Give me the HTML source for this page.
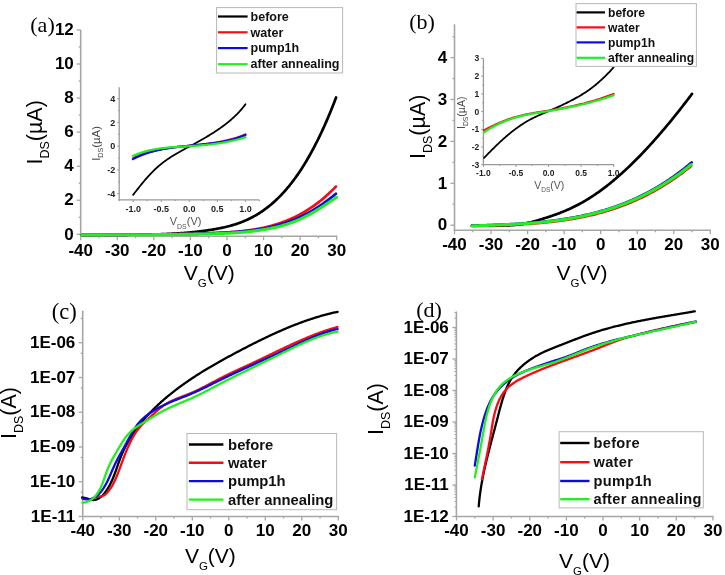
<!DOCTYPE html>
<html><head><meta charset="utf-8"><title>Transfer characteristics</title>
<style>html,body{margin:0;padding:0;background:#fff;}svg{display:block;filter:blur(0.5px);}</style>
</head><body>
<svg width="725" height="575" viewBox="0 0 725 575">
<rect width="725" height="575" fill="#fff"/>
<line x1="80.7" y1="29.9" x2="80.7" y2="236.7" stroke="#a6a6a6" stroke-width="1.6"/>
<line x1="80" y1="236.2" x2="337.39" y2="236.2" stroke="#a6a6a6" stroke-width="1.6"/>
<line x1="76.7" y1="234.3" x2="80.7" y2="234.3" stroke="#a6a6a6" stroke-width="1.3"/>
<line x1="78.7" y1="217.27" x2="80.7" y2="217.27" stroke="#a6a6a6" stroke-width="1.3"/>
<line x1="76.7" y1="200.24" x2="80.7" y2="200.24" stroke="#a6a6a6" stroke-width="1.3"/>
<line x1="78.7" y1="183.21" x2="80.7" y2="183.21" stroke="#a6a6a6" stroke-width="1.3"/>
<line x1="76.7" y1="166.18" x2="80.7" y2="166.18" stroke="#a6a6a6" stroke-width="1.3"/>
<line x1="78.7" y1="149.15" x2="80.7" y2="149.15" stroke="#a6a6a6" stroke-width="1.3"/>
<line x1="76.7" y1="132.12" x2="80.7" y2="132.12" stroke="#a6a6a6" stroke-width="1.3"/>
<line x1="78.7" y1="115.09" x2="80.7" y2="115.09" stroke="#a6a6a6" stroke-width="1.3"/>
<line x1="76.7" y1="98.06" x2="80.7" y2="98.06" stroke="#a6a6a6" stroke-width="1.3"/>
<line x1="78.7" y1="81.03" x2="80.7" y2="81.03" stroke="#a6a6a6" stroke-width="1.3"/>
<line x1="76.7" y1="64" x2="80.7" y2="64" stroke="#a6a6a6" stroke-width="1.3"/>
<line x1="78.7" y1="46.97" x2="80.7" y2="46.97" stroke="#a6a6a6" stroke-width="1.3"/>
<line x1="76.7" y1="29.94" x2="80.7" y2="29.94" stroke="#a6a6a6" stroke-width="1.3"/>
<line x1="80.7" y1="236.2" x2="80.7" y2="240.2" stroke="#a6a6a6" stroke-width="1.3"/>
<line x1="98.98" y1="236.2" x2="98.98" y2="238.2" stroke="#a6a6a6" stroke-width="1.3"/>
<line x1="117.27" y1="236.2" x2="117.27" y2="240.2" stroke="#a6a6a6" stroke-width="1.3"/>
<line x1="135.56" y1="236.2" x2="135.56" y2="238.2" stroke="#a6a6a6" stroke-width="1.3"/>
<line x1="153.84" y1="236.2" x2="153.84" y2="240.2" stroke="#a6a6a6" stroke-width="1.3"/>
<line x1="172.12" y1="236.2" x2="172.12" y2="238.2" stroke="#a6a6a6" stroke-width="1.3"/>
<line x1="190.41" y1="236.2" x2="190.41" y2="240.2" stroke="#a6a6a6" stroke-width="1.3"/>
<line x1="208.69" y1="236.2" x2="208.69" y2="238.2" stroke="#a6a6a6" stroke-width="1.3"/>
<line x1="226.98" y1="236.2" x2="226.98" y2="240.2" stroke="#a6a6a6" stroke-width="1.3"/>
<line x1="245.26" y1="236.2" x2="245.26" y2="238.2" stroke="#a6a6a6" stroke-width="1.3"/>
<line x1="263.55" y1="236.2" x2="263.55" y2="240.2" stroke="#a6a6a6" stroke-width="1.3"/>
<line x1="281.83" y1="236.2" x2="281.83" y2="238.2" stroke="#a6a6a6" stroke-width="1.3"/>
<line x1="300.12" y1="236.2" x2="300.12" y2="240.2" stroke="#a6a6a6" stroke-width="1.3"/>
<line x1="318.41" y1="236.2" x2="318.41" y2="238.2" stroke="#a6a6a6" stroke-width="1.3"/>
<line x1="336.69" y1="236.2" x2="336.69" y2="240.2" stroke="#a6a6a6" stroke-width="1.3"/>
<text x="73.8" y="239.5" font-family='"Liberation Sans", sans-serif' font-size="17" font-weight="bold" text-anchor="end" fill="#000">0</text>
<text x="73.8" y="205.44" font-family='"Liberation Sans", sans-serif' font-size="17" font-weight="bold" text-anchor="end" fill="#000">2</text>
<text x="73.8" y="171.38" font-family='"Liberation Sans", sans-serif' font-size="17" font-weight="bold" text-anchor="end" fill="#000">4</text>
<text x="73.8" y="137.32" font-family='"Liberation Sans", sans-serif' font-size="17" font-weight="bold" text-anchor="end" fill="#000">6</text>
<text x="73.8" y="103.26" font-family='"Liberation Sans", sans-serif' font-size="17" font-weight="bold" text-anchor="end" fill="#000">8</text>
<text x="73.8" y="69.2" font-family='"Liberation Sans", sans-serif' font-size="17" font-weight="bold" text-anchor="end" fill="#000">10</text>
<text x="73.8" y="35.14" font-family='"Liberation Sans", sans-serif' font-size="17" font-weight="bold" text-anchor="end" fill="#000">12</text>
<text x="80.7" y="256.3" font-family='"Liberation Sans", sans-serif' font-size="17" font-weight="bold" text-anchor="middle" fill="#000">-40</text>
<text x="117.27" y="256.3" font-family='"Liberation Sans", sans-serif' font-size="17" font-weight="bold" text-anchor="middle" fill="#000">-30</text>
<text x="153.84" y="256.3" font-family='"Liberation Sans", sans-serif' font-size="17" font-weight="bold" text-anchor="middle" fill="#000">-20</text>
<text x="190.41" y="256.3" font-family='"Liberation Sans", sans-serif' font-size="17" font-weight="bold" text-anchor="middle" fill="#000">-10</text>
<text x="226.98" y="256.3" font-family='"Liberation Sans", sans-serif' font-size="17" font-weight="bold" text-anchor="middle" fill="#000">0</text>
<text x="263.55" y="256.3" font-family='"Liberation Sans", sans-serif' font-size="17" font-weight="bold" text-anchor="middle" fill="#000">10</text>
<text x="300.12" y="256.3" font-family='"Liberation Sans", sans-serif' font-size="17" font-weight="bold" text-anchor="middle" fill="#000">20</text>
<text x="336.69" y="256.3" font-family='"Liberation Sans", sans-serif' font-size="17" font-weight="bold" text-anchor="middle" fill="#000">30</text>
<path d="M82 234.99 L83 234.97 L84.01 234.95 L85.01 234.93 L86.02 234.91 L87.02 234.9 L88.03 234.88 L89.03 234.86 L90.03 234.85 L91.04 234.84 L92.04 234.83 L93.05 234.81 L94.05 234.8 L95.06 234.8 L96.06 234.79 L97.07 234.78 L98.07 234.77 L99.07 234.77 L100.08 234.76 L101.08 234.75 L102.09 234.75 L103.09 234.75 L104.1 234.74 L105.1 234.74 L106.1 234.74 L107.11 234.74 L108.11 234.73 L109.12 234.73 L110.12 234.73 L111.13 234.73 L112.13 234.73 L113.13 234.73 L114.14 234.73 L115.14 234.73 L116.15 234.73 L117.15 234.73 L118.16 234.73 L119.16 234.73 L120.17 234.73 L121.17 234.73 L122.17 234.73 L123.18 234.73 L124.18 234.73 L125.19 234.72 L126.19 234.72 L127.2 234.72 L128.2 234.72 L129.2 234.72 L130.21 234.71 L131.21 234.71 L132.22 234.71 L133.22 234.7 L134.23 234.7 L135.23 234.69 L136.23 234.68 L137.24 234.68 L138.24 234.67 L139.25 234.66 L140.25 234.65 L141.26 234.64 L142.26 234.63 L143.27 234.62 L144.27 234.61 L145.27 234.59 L146.28 234.58 L147.28 234.56 L148.29 234.55 L149.29 234.53 L150.3 234.51 L151.3 234.49 L152.3 234.47 L153.31 234.44 L154.31 234.42 L155.32 234.39 L156.32 234.37 L157.33 234.34 L158.33 234.31 L159.33 234.28 L160.34 234.24 L161.34 234.21 L162.35 234.17 L163.35 234.14 L164.36 234.1 L165.36 234.06 L166.37 234.01 L167.37 233.97 L168.37 233.92 L169.38 233.88 L170.38 233.83 L171.39 233.77 L172.39 233.72 L173.4 233.66 L174.4 233.61 L175.4 233.55 L176.41 233.48 L177.41 233.42 L178.42 233.35 L179.42 233.29 L180.43 233.22 L181.43 233.14 L182.43 233.07 L183.44 232.99 L184.44 232.91 L185.45 232.83 L186.45 232.74 L187.46 232.65 L188.46 232.56 L189.47 232.47 L190.47 232.38 L191.47 232.28 L192.48 232.18 L193.48 232.08 L194.49 231.97 L195.49 231.86 L196.5 231.75 L197.5 231.63 L198.5 231.52 L199.51 231.4 L200.51 231.27 L201.52 231.15 L202.52 231.02 L203.53 230.89 L204.53 230.75 L205.53 230.61 L206.54 230.47 L207.54 230.33 L208.55 230.18 L209.55 230.03 L210.56 229.87 L211.56 229.71 L212.57 229.55 L213.57 229.38 L214.57 229.21 L215.58 229.04 L216.58 228.86 L217.59 228.68 L218.59 228.49 L219.6 228.29 L220.6 228.09 L221.6 227.88 L222.61 227.67 L223.61 227.45 L224.62 227.22 L225.62 226.98 L226.63 226.74 L227.63 226.49 L228.63 226.23 L229.64 225.97 L230.64 225.69 L231.65 225.41 L232.65 225.12 L233.66 224.82 L234.66 224.5 L235.67 224.18 L236.67 223.85 L237.67 223.51 L238.68 223.16 L239.68 222.8 L240.69 222.42 L241.69 222.04 L242.7 221.64 L243.7 221.23 L244.7 220.81 L245.71 220.38 L246.71 219.93 L247.72 219.47 L248.72 219 L249.73 218.51 L250.73 218.01 L251.73 217.5 L252.74 216.97 L253.74 216.43 L254.75 215.87 L255.75 215.3 L256.76 214.71 L257.76 214.11 L258.77 213.49 L259.77 212.86 L260.77 212.21 L261.78 211.54 L262.78 210.85 L263.79 210.15 L264.79 209.43 L265.8 208.7 L266.8 207.94 L267.8 207.17 L268.81 206.38 L269.81 205.56 L270.82 204.74 L271.82 203.89 L272.83 203.02 L273.83 202.13 L274.83 201.22 L275.84 200.29 L276.84 199.34 L277.85 198.37 L278.85 197.38 L279.86 196.37 L280.86 195.34 L281.87 194.28 L282.87 193.2 L283.87 192.1 L284.88 190.98 L285.88 189.83 L286.89 188.67 L287.89 187.47 L288.9 186.26 L289.9 185.02 L290.9 183.75 L291.91 182.46 L292.91 181.15 L293.92 179.81 L294.92 178.45 L295.93 177.06 L296.93 175.64 L297.93 174.2 L298.94 172.73 L299.94 171.24 L300.95 169.71 L301.95 168.17 L302.96 166.59 L303.96 164.99 L304.97 163.35 L305.97 161.69 L306.97 160 L307.98 158.29 L308.98 156.54 L309.99 154.77 L310.99 152.96 L312 151.13 L313 149.26 L314 147.37 L315.01 145.44 L316.01 143.49 L317.02 141.5 L318.02 139.48 L319.03 137.43 L320.03 135.35 L321.03 133.23 L322.04 131.08 L323.04 128.91 L324.05 126.69 L325.05 124.45 L326.06 122.17 L327.06 119.86 L328.07 117.51 L329.07 115.13 L330.07 112.71 L331.08 110.26 L332.08 107.78 L333.09 105.26 L334.09 102.7 L335.1 100.11 L336.1 97.48" fill="none" stroke="#000000" stroke-width="2.7" stroke-linejoin="round" stroke-linecap="round"/>
<path d="M82 234.89 L83.01 234.89 L84.02 234.89 L85.02 234.89 L86.03 234.88 L87.04 234.88 L88.05 234.88 L89.05 234.88 L90.06 234.88 L91.07 234.88 L92.08 234.88 L93.08 234.88 L94.09 234.88 L95.1 234.87 L96.11 234.87 L97.11 234.87 L98.12 234.87 L99.13 234.87 L100.14 234.87 L101.14 234.87 L102.15 234.86 L103.16 234.86 L104.17 234.86 L105.17 234.86 L106.18 234.85 L107.19 234.85 L108.2 234.85 L109.2 234.85 L110.21 234.84 L111.22 234.84 L112.23 234.84 L113.23 234.83 L114.24 234.83 L115.25 234.83 L116.26 234.82 L117.26 234.82 L118.27 234.82 L119.28 234.81 L120.29 234.81 L121.29 234.8 L122.3 234.8 L123.31 234.79 L124.32 234.79 L125.32 234.78 L126.33 234.78 L127.34 234.77 L128.35 234.77 L129.35 234.76 L130.36 234.75 L131.37 234.75 L132.38 234.74 L133.38 234.73 L134.39 234.73 L135.4 234.72 L136.41 234.71 L137.41 234.7 L138.42 234.7 L139.43 234.69 L140.44 234.68 L141.44 234.67 L142.45 234.66 L143.46 234.65 L144.47 234.64 L145.47 234.63 L146.48 234.62 L147.49 234.61 L148.5 234.6 L149.51 234.59 L150.51 234.58 L151.52 234.57 L152.53 234.55 L153.54 234.54 L154.54 234.53 L155.55 234.52 L156.56 234.5 L157.57 234.49 L158.57 234.47 L159.58 234.46 L160.59 234.45 L161.6 234.43 L162.6 234.41 L163.61 234.4 L164.62 234.38 L165.63 234.37 L166.63 234.35 L167.64 234.33 L168.65 234.31 L169.66 234.3 L170.66 234.28 L171.67 234.26 L172.68 234.24 L173.69 234.22 L174.69 234.2 L175.7 234.18 L176.71 234.16 L177.72 234.14 L178.72 234.12 L179.73 234.1 L180.74 234.07 L181.75 234.05 L182.75 234.03 L183.76 234 L184.77 233.98 L185.78 233.95 L186.78 233.93 L187.79 233.9 L188.8 233.88 L189.81 233.85 L190.81 233.82 L191.82 233.8 L192.83 233.77 L193.84 233.74 L194.84 233.71 L195.85 233.68 L196.86 233.65 L197.87 233.62 L198.87 233.59 L199.88 233.56 L200.89 233.53 L201.9 233.5 L202.9 233.46 L203.91 233.43 L204.92 233.39 L205.93 233.36 L206.93 233.33 L207.94 233.29 L208.95 233.25 L209.96 233.22 L210.97 233.18 L211.97 233.14 L212.98 233.1 L213.99 233.06 L215 233.02 L216 232.98 L217.01 232.94 L218.02 232.89 L219.03 232.85 L220.03 232.8 L221.04 232.75 L222.05 232.7 L223.06 232.65 L224.06 232.59 L225.07 232.54 L226.08 232.48 L227.09 232.42 L228.09 232.35 L229.1 232.29 L230.11 232.22 L231.12 232.15 L232.12 232.07 L233.13 232 L234.14 231.91 L235.15 231.83 L236.15 231.74 L237.16 231.65 L238.17 231.56 L239.18 231.46 L240.18 231.36 L241.19 231.25 L242.2 231.14 L243.21 231.03 L244.21 230.91 L245.22 230.79 L246.23 230.66 L247.24 230.53 L248.24 230.4 L249.25 230.26 L250.26 230.11 L251.27 229.96 L252.27 229.81 L253.28 229.65 L254.29 229.48 L255.3 229.31 L256.3 229.13 L257.31 228.95 L258.32 228.76 L259.33 228.57 L260.33 228.37 L261.34 228.16 L262.35 227.95 L263.36 227.73 L264.36 227.5 L265.37 227.27 L266.38 227.03 L267.39 226.79 L268.39 226.53 L269.4 226.27 L270.41 226.01 L271.42 225.73 L272.42 225.45 L273.43 225.16 L274.44 224.87 L275.45 224.57 L276.46 224.25 L277.46 223.93 L278.47 223.61 L279.48 223.27 L280.49 222.93 L281.49 222.57 L282.5 222.21 L283.51 221.84 L284.52 221.46 L285.52 221.07 L286.53 220.68 L287.54 220.27 L288.55 219.85 L289.55 219.42 L290.56 218.99 L291.57 218.54 L292.58 218.08 L293.58 217.61 L294.59 217.14 L295.6 216.65 L296.61 216.15 L297.61 215.64 L298.62 215.11 L299.63 214.58 L300.64 214.04 L301.64 213.48 L302.65 212.91 L303.66 212.33 L304.67 211.74 L305.67 211.13 L306.68 210.52 L307.69 209.89 L308.7 209.25 L309.7 208.59 L310.71 207.92 L311.72 207.24 L312.73 206.55 L313.73 205.84 L314.74 205.12 L315.75 204.38 L316.76 203.63 L317.76 202.87 L318.77 202.09 L319.78 201.3 L320.79 200.5 L321.79 199.67 L322.8 198.84 L323.81 197.99 L324.82 197.12 L325.82 196.24 L326.83 195.35 L327.84 194.43 L328.85 193.51 L329.85 192.56 L330.86 191.6 L331.87 190.63 L332.88 189.63 L333.88 188.63 L334.89 187.6 L335.9 186.56" fill="none" stroke="#fa0a12" stroke-width="2.7" stroke-linejoin="round" stroke-linecap="round"/>
<path d="M82 234.9 L83.01 234.89 L84.02 234.89 L85.02 234.89 L86.03 234.88 L87.04 234.88 L88.05 234.88 L89.05 234.88 L90.06 234.87 L91.07 234.87 L92.08 234.87 L93.08 234.87 L94.09 234.86 L95.1 234.86 L96.11 234.86 L97.11 234.86 L98.12 234.85 L99.13 234.85 L100.14 234.85 L101.14 234.85 L102.15 234.85 L103.16 234.84 L104.17 234.84 L105.17 234.84 L106.18 234.84 L107.19 234.84 L108.2 234.83 L109.2 234.83 L110.21 234.83 L111.22 234.83 L112.23 234.82 L113.23 234.82 L114.24 234.82 L115.25 234.82 L116.26 234.81 L117.26 234.81 L118.27 234.81 L119.28 234.8 L120.29 234.8 L121.29 234.8 L122.3 234.8 L123.31 234.79 L124.32 234.79 L125.32 234.78 L126.33 234.78 L127.34 234.78 L128.35 234.77 L129.35 234.77 L130.36 234.76 L131.37 234.76 L132.38 234.75 L133.38 234.75 L134.39 234.74 L135.4 234.74 L136.41 234.73 L137.41 234.73 L138.42 234.72 L139.43 234.71 L140.44 234.71 L141.44 234.7 L142.45 234.69 L143.46 234.69 L144.47 234.68 L145.47 234.67 L146.48 234.66 L147.49 234.65 L148.5 234.65 L149.51 234.64 L150.51 234.63 L151.52 234.62 L152.53 234.61 L153.54 234.6 L154.54 234.59 L155.55 234.58 L156.56 234.57 L157.57 234.55 L158.57 234.54 L159.58 234.53 L160.59 234.52 L161.6 234.5 L162.6 234.49 L163.61 234.48 L164.62 234.46 L165.63 234.45 L166.63 234.43 L167.64 234.42 L168.65 234.4 L169.66 234.39 L170.66 234.37 L171.67 234.35 L172.68 234.34 L173.69 234.32 L174.69 234.3 L175.7 234.28 L176.71 234.26 L177.72 234.24 L178.72 234.22 L179.73 234.2 L180.74 234.18 L181.75 234.16 L182.75 234.14 L183.76 234.12 L184.77 234.09 L185.78 234.07 L186.78 234.05 L187.79 234.02 L188.8 234 L189.81 233.97 L190.81 233.95 L191.82 233.92 L192.83 233.89 L193.84 233.87 L194.84 233.84 L195.85 233.81 L196.86 233.78 L197.87 233.75 L198.87 233.72 L199.88 233.69 L200.89 233.66 L201.9 233.62 L202.9 233.59 L203.91 233.56 L204.92 233.52 L205.93 233.49 L206.93 233.45 L207.94 233.42 L208.95 233.38 L209.96 233.34 L210.97 233.3 L211.97 233.26 L212.98 233.22 L213.99 233.18 L215 233.14 L216 233.1 L217.01 233.06 L218.02 233.01 L219.03 232.97 L220.03 232.92 L221.04 232.87 L222.05 232.82 L223.06 232.77 L224.06 232.71 L225.07 232.66 L226.08 232.6 L227.09 232.54 L228.09 232.48 L229.1 232.42 L230.11 232.36 L231.12 232.29 L232.12 232.22 L233.13 232.15 L234.14 232.08 L235.15 232 L236.15 231.92 L237.16 231.84 L238.17 231.76 L239.18 231.67 L240.18 231.59 L241.19 231.49 L242.2 231.4 L243.21 231.3 L244.21 231.2 L245.22 231.1 L246.23 230.99 L247.24 230.88 L248.24 230.77 L249.25 230.65 L250.26 230.53 L251.27 230.4 L252.27 230.27 L253.28 230.14 L254.29 230 L255.3 229.86 L256.3 229.71 L257.31 229.56 L258.32 229.4 L259.33 229.24 L260.33 229.07 L261.34 228.9 L262.35 228.72 L263.36 228.53 L264.36 228.34 L265.37 228.15 L266.38 227.95 L267.39 227.74 L268.39 227.53 L269.4 227.31 L270.41 227.08 L271.42 226.85 L272.42 226.61 L273.43 226.36 L274.44 226.11 L275.45 225.85 L276.46 225.58 L277.46 225.3 L278.47 225.02 L279.48 224.73 L280.49 224.43 L281.49 224.13 L282.5 223.82 L283.51 223.49 L284.52 223.17 L285.52 222.83 L286.53 222.48 L287.54 222.13 L288.55 221.77 L289.55 221.4 L290.56 221.02 L291.57 220.63 L292.58 220.24 L293.58 219.83 L294.59 219.42 L295.6 219 L296.61 218.57 L297.61 218.12 L298.62 217.67 L299.63 217.22 L300.64 216.75 L301.64 216.27 L302.65 215.78 L303.66 215.28 L304.67 214.77 L305.67 214.26 L306.68 213.73 L307.69 213.19 L308.7 212.64 L309.7 212.08 L310.71 211.51 L311.72 210.94 L312.73 210.35 L313.73 209.75 L314.74 209.13 L315.75 208.51 L316.76 207.88 L317.76 207.24 L318.77 206.58 L319.78 205.92 L320.79 205.24 L321.79 204.55 L322.8 203.86 L323.81 203.15 L324.82 202.43 L325.82 201.69 L326.83 200.95 L327.84 200.19 L328.85 199.43 L329.85 198.65 L330.86 197.86 L331.87 197.06 L332.88 196.24 L333.88 195.41 L334.89 194.58 L335.9 193.73" fill="none" stroke="#0c0ce0" stroke-width="2.7" stroke-linejoin="round" stroke-linecap="round"/>
<path d="M82 234.91 L83.01 234.91 L84.01 234.9 L85.02 234.9 L86.02 234.89 L87.03 234.89 L88.03 234.88 L89.04 234.88 L90.04 234.87 L91.05 234.87 L92.06 234.86 L93.06 234.86 L94.07 234.86 L95.07 234.85 L96.08 234.85 L97.08 234.85 L98.09 234.84 L99.09 234.84 L100.1 234.84 L101.11 234.83 L102.11 234.83 L103.12 234.83 L104.12 234.83 L105.13 234.82 L106.13 234.82 L107.14 234.82 L108.14 234.82 L109.15 234.81 L110.15 234.81 L111.16 234.81 L112.17 234.81 L113.17 234.8 L114.18 234.8 L115.18 234.8 L116.19 234.8 L117.19 234.8 L118.2 234.79 L119.2 234.79 L120.21 234.79 L121.22 234.79 L122.22 234.78 L123.23 234.78 L124.23 234.78 L125.24 234.78 L126.24 234.77 L127.25 234.77 L128.25 234.77 L129.26 234.77 L130.27 234.76 L131.27 234.76 L132.28 234.76 L133.28 234.75 L134.29 234.75 L135.29 234.75 L136.3 234.75 L137.3 234.74 L138.31 234.74 L139.32 234.73 L140.32 234.73 L141.33 234.73 L142.33 234.72 L143.34 234.72 L144.34 234.71 L145.35 234.71 L146.35 234.7 L147.36 234.7 L148.37 234.69 L149.37 234.69 L150.38 234.68 L151.38 234.68 L152.39 234.67 L153.39 234.67 L154.4 234.66 L155.4 234.65 L156.41 234.65 L157.42 234.64 L158.42 234.63 L159.43 234.63 L160.43 234.62 L161.44 234.61 L162.44 234.6 L163.45 234.59 L164.45 234.58 L165.46 234.58 L166.46 234.57 L167.47 234.56 L168.48 234.55 L169.48 234.54 L170.49 234.53 L171.49 234.52 L172.5 234.5 L173.5 234.49 L174.51 234.48 L175.51 234.47 L176.52 234.46 L177.53 234.44 L178.53 234.43 L179.54 234.42 L180.54 234.4 L181.55 234.39 L182.55 234.38 L183.56 234.36 L184.56 234.35 L185.57 234.33 L186.58 234.31 L187.58 234.3 L188.59 234.28 L189.59 234.26 L190.6 234.25 L191.6 234.23 L192.61 234.21 L193.61 234.19 L194.62 234.17 L195.63 234.15 L196.63 234.13 L197.64 234.11 L198.64 234.09 L199.65 234.07 L200.65 234.05 L201.66 234.02 L202.66 234 L203.67 233.98 L204.68 233.95 L205.68 233.93 L206.69 233.9 L207.69 233.88 L208.7 233.85 L209.7 233.83 L210.71 233.8 L211.71 233.77 L212.72 233.74 L213.72 233.71 L214.73 233.68 L215.74 233.65 L216.74 233.62 L217.75 233.59 L218.75 233.56 L219.76 233.52 L220.76 233.48 L221.77 233.45 L222.77 233.41 L223.78 233.37 L224.79 233.32 L225.79 233.28 L226.8 233.23 L227.8 233.19 L228.81 233.14 L229.81 233.08 L230.82 233.03 L231.82 232.97 L232.83 232.92 L233.84 232.86 L234.84 232.79 L235.85 232.73 L236.85 232.66 L237.86 232.59 L238.86 232.52 L239.87 232.44 L240.87 232.36 L241.88 232.28 L242.89 232.19 L243.89 232.11 L244.9 232.01 L245.9 231.92 L246.91 231.82 L247.91 231.72 L248.92 231.62 L249.92 231.51 L250.93 231.4 L251.94 231.28 L252.94 231.16 L253.95 231.04 L254.95 230.91 L255.96 230.78 L256.96 230.64 L257.97 230.5 L258.97 230.36 L259.98 230.21 L260.98 230.05 L261.99 229.9 L263 229.73 L264 229.57 L265.01 229.39 L266.01 229.22 L267.02 229.04 L268.02 228.85 L269.03 228.66 L270.03 228.46 L271.04 228.26 L272.05 228.05 L273.05 227.84 L274.06 227.62 L275.06 227.4 L276.07 227.17 L277.07 226.93 L278.08 226.69 L279.08 226.44 L280.09 226.18 L281.1 225.92 L282.1 225.64 L283.11 225.36 L284.11 225.07 L285.12 224.78 L286.12 224.47 L287.13 224.15 L288.13 223.83 L289.14 223.49 L290.15 223.15 L291.15 222.79 L292.16 222.42 L293.16 222.05 L294.17 221.66 L295.17 221.26 L296.18 220.85 L297.18 220.43 L298.19 220 L299.2 219.56 L300.2 219.11 L301.21 218.65 L302.21 218.17 L303.22 217.69 L304.22 217.2 L305.23 216.7 L306.23 216.18 L307.24 215.66 L308.25 215.12 L309.25 214.58 L310.26 214.02 L311.26 213.46 L312.27 212.89 L313.27 212.31 L314.28 211.72 L315.28 211.13 L316.29 210.52 L317.29 209.91 L318.3 209.29 L319.31 208.67 L320.31 208.04 L321.32 207.4 L322.32 206.76 L323.33 206.11 L324.33 205.46 L325.34 204.8 L326.34 204.14 L327.35 203.47 L328.36 202.8 L329.36 202.13 L330.37 201.46 L331.37 200.78 L332.38 200.09 L333.38 199.41 L334.39 198.72 L335.39 198.04 L336.4 197.35" fill="none" stroke="#22ee22" stroke-width="3.1" stroke-linejoin="round" stroke-linecap="round"/>
<line x1="119.2" y1="87.2" x2="119.2" y2="200.4" stroke="#999999" stroke-width="1.3"/>
<line x1="118.7" y1="199.9" x2="259.2" y2="199.9" stroke="#999999" stroke-width="1.3"/>
<line x1="117.2" y1="193.6" x2="119.2" y2="193.6" stroke="#999999" stroke-width="1"/>
<line x1="118" y1="181.75" x2="119.2" y2="181.75" stroke="#999999" stroke-width="1"/>
<line x1="117.2" y1="169.9" x2="119.2" y2="169.9" stroke="#999999" stroke-width="1"/>
<line x1="118" y1="158.05" x2="119.2" y2="158.05" stroke="#999999" stroke-width="1"/>
<line x1="117.2" y1="146.2" x2="119.2" y2="146.2" stroke="#999999" stroke-width="1"/>
<line x1="118" y1="134.35" x2="119.2" y2="134.35" stroke="#999999" stroke-width="1"/>
<line x1="117.2" y1="122.5" x2="119.2" y2="122.5" stroke="#999999" stroke-width="1"/>
<line x1="118" y1="110.65" x2="119.2" y2="110.65" stroke="#999999" stroke-width="1"/>
<line x1="117.2" y1="98.8" x2="119.2" y2="98.8" stroke="#999999" stroke-width="1"/>
<line x1="119.18" y1="199.9" x2="119.18" y2="201.1" stroke="#999999" stroke-width="1"/>
<line x1="133.2" y1="199.9" x2="133.2" y2="202.1" stroke="#999999" stroke-width="1"/>
<line x1="147.23" y1="199.9" x2="147.23" y2="201.1" stroke="#999999" stroke-width="1"/>
<line x1="161.25" y1="199.9" x2="161.25" y2="202.1" stroke="#999999" stroke-width="1"/>
<line x1="175.28" y1="199.9" x2="175.28" y2="201.1" stroke="#999999" stroke-width="1"/>
<line x1="189.3" y1="199.9" x2="189.3" y2="202.1" stroke="#999999" stroke-width="1"/>
<line x1="203.33" y1="199.9" x2="203.33" y2="201.1" stroke="#999999" stroke-width="1"/>
<line x1="217.35" y1="199.9" x2="217.35" y2="202.1" stroke="#999999" stroke-width="1"/>
<line x1="231.38" y1="199.9" x2="231.38" y2="201.1" stroke="#999999" stroke-width="1"/>
<line x1="245.4" y1="199.9" x2="245.4" y2="202.1" stroke="#999999" stroke-width="1"/>
<line x1="259.43" y1="199.9" x2="259.43" y2="201.1" stroke="#999999" stroke-width="1"/>
<text x="115.3" y="196.7" font-family='"Liberation Sans", sans-serif' font-size="9" font-weight="bold" text-anchor="end" fill="#222">-4</text>
<text x="115.3" y="173" font-family='"Liberation Sans", sans-serif' font-size="9" font-weight="bold" text-anchor="end" fill="#222">-2</text>
<text x="115.3" y="149.3" font-family='"Liberation Sans", sans-serif' font-size="9" font-weight="bold" text-anchor="end" fill="#222">0</text>
<text x="115.3" y="125.6" font-family='"Liberation Sans", sans-serif' font-size="9" font-weight="bold" text-anchor="end" fill="#222">2</text>
<text x="115.3" y="101.9" font-family='"Liberation Sans", sans-serif' font-size="9" font-weight="bold" text-anchor="end" fill="#222">4</text>
<text x="133.2" y="211.6" font-family='"Liberation Sans", sans-serif' font-size="9" font-weight="bold" text-anchor="middle" fill="#222">-1.0</text>
<text x="161.25" y="211.6" font-family='"Liberation Sans", sans-serif' font-size="9" font-weight="bold" text-anchor="middle" fill="#222">-0.5</text>
<text x="189.3" y="211.6" font-family='"Liberation Sans", sans-serif' font-size="9" font-weight="bold" text-anchor="middle" fill="#222">0.0</text>
<text x="217.35" y="211.6" font-family='"Liberation Sans", sans-serif' font-size="9" font-weight="bold" text-anchor="middle" fill="#222">0.5</text>
<text x="245.4" y="211.6" font-family='"Liberation Sans", sans-serif' font-size="9" font-weight="bold" text-anchor="middle" fill="#222">1.0</text>
<g transform="translate(99.6 160.8) rotate(-90)">
<text x="0" y="0" font-family='"Liberation Sans", sans-serif' font-size="11.3" fill="#444">I<tspan font-size="7.2" dy="3.2">DS</tspan><tspan dy="-3.2">(&#181;A)</tspan></text>
</g>
<text x="169.7" y="225" font-family='"Liberation Sans", sans-serif' font-size="11" fill="#555">V<tspan font-size="7" dy="3.5">DS</tspan><tspan dy="-3.5">(V)</tspan></text>
<path d="M133.14 194.85 L133.73 194.09 L134.33 193.32 L134.93 192.55 L135.54 191.77 L136.15 190.99 L136.76 190.21 L137.38 189.42 L138 188.63 L138.62 187.84 L139.25 187.05 L139.88 186.26 L140.52 185.47 L141.16 184.68 L141.8 183.89 L142.45 183.09 L143.1 182.3 L143.76 181.52 L144.42 180.73 L145.09 179.95 L145.76 179.16 L146.44 178.39 L147.12 177.61 L147.8 176.84 L148.49 176.08 L149.19 175.31 L149.89 174.56 L150.59 173.81 L151.3 173.06 L152.02 172.33 L152.74 171.6 L153.47 170.87 L154.2 170.16 L154.94 169.45 L155.68 168.75 L156.43 168.06 L157.18 167.38 L157.94 166.71 L158.71 166.05 L159.48 165.4 L160.25 164.75 L161.04 164.11 L161.82 163.49 L162.62 162.87 L163.41 162.26 L164.22 161.65 L165.02 161.06 L165.84 160.47 L166.65 159.89 L167.48 159.32 L168.3 158.76 L169.14 158.2 L169.97 157.65 L170.81 157.1 L171.66 156.57 L172.51 156.04 L173.36 155.51 L174.21 154.99 L175.07 154.47 L175.94 153.96 L176.8 153.45 L177.67 152.95 L178.54 152.45 L179.42 151.95 L180.29 151.46 L181.17 150.96 L182.05 150.48 L182.93 149.99 L183.82 149.5 L184.7 149.02 L185.59 148.54 L186.48 148.05 L187.37 147.57 L188.26 147.09 L189.15 146.61 L190.04 146.12 L190.94 145.64 L191.83 145.16 L192.72 144.67 L193.61 144.18 L194.51 143.7 L195.4 143.21 L196.29 142.72 L197.18 142.22 L198.07 141.73 L198.96 141.23 L199.85 140.74 L200.74 140.24 L201.63 139.73 L202.51 139.23 L203.4 138.72 L204.28 138.21 L205.16 137.7 L206.04 137.18 L206.92 136.66 L207.79 136.14 L208.67 135.62 L209.54 135.09 L210.41 134.56 L211.27 134.02 L212.14 133.48 L213 132.94 L213.85 132.39 L214.71 131.84 L215.56 131.29 L216.41 130.73 L217.25 130.17 L218.09 129.6 L218.93 129.02 L219.76 128.45 L220.59 127.86 L221.41 127.28 L222.23 126.68 L223.05 126.08 L223.86 125.48 L224.67 124.87 L225.47 124.26 L226.27 123.64 L227.06 123.01 L227.85 122.38 L228.63 121.74 L229.4 121.09 L230.17 120.44 L230.94 119.79 L231.7 119.12 L232.45 118.45 L233.2 117.77 L233.94 117.09 L234.67 116.4 L235.4 115.7 L236.12 114.99 L236.84 114.28 L237.54 113.55 L238.24 112.82 L238.94 112.09 L239.62 111.34 L240.3 110.59 L240.97 109.83 L241.64 109.06 L242.29 108.28 L242.94 107.49 L243.58 106.7 L244.21 105.89 L244.83 105.08 L245.45 104.26" fill="none" stroke="#000000" stroke-width="1.8" stroke-linejoin="round" stroke-linecap="round"/>
<path d="M132.94 158.4 L133.86 157.94 L134.79 157.49 L135.73 157.06 L136.66 156.64 L137.6 156.23 L138.54 155.83 L139.48 155.44 L140.43 155.07 L141.38 154.7 L142.33 154.35 L143.28 154 L144.24 153.67 L145.2 153.35 L146.16 153.04 L147.12 152.73 L148.08 152.44 L149.05 152.15 L150.02 151.88 L150.99 151.61 L151.96 151.35 L152.94 151.1 L153.91 150.86 L154.89 150.63 L155.87 150.4 L156.86 150.18 L157.84 149.97 L158.82 149.77 L159.81 149.57 L160.8 149.38 L161.79 149.19 L162.78 149.01 L163.78 148.84 L164.77 148.67 L165.77 148.51 L166.76 148.36 L167.76 148.2 L168.76 148.06 L169.76 147.92 L170.76 147.78 L171.76 147.64 L172.77 147.51 L173.77 147.39 L174.78 147.26 L175.78 147.15 L176.79 147.03 L177.8 146.91 L178.81 146.8 L179.82 146.69 L180.83 146.59 L181.84 146.48 L182.85 146.38 L183.86 146.28 L184.87 146.18 L185.88 146.08 L186.9 145.98 L187.91 145.88 L188.92 145.78 L189.93 145.69 L190.95 145.59 L191.96 145.49 L192.97 145.39 L193.99 145.29 L195 145.19 L196.01 145.09 L197.03 144.99 L198.04 144.89 L199.05 144.78 L200.06 144.67 L201.08 144.57 L202.09 144.45 L203.1 144.34 L204.11 144.22 L205.12 144.1 L206.13 143.98 L207.14 143.86 L208.14 143.73 L209.15 143.6 L210.16 143.46 L211.16 143.32 L212.17 143.18 L213.17 143.03 L214.17 142.88 L215.18 142.72 L216.18 142.56 L217.18 142.39 L218.18 142.22 L219.17 142.04 L220.17 141.85 L221.16 141.66 L222.16 141.47 L223.15 141.27 L224.14 141.06 L225.13 140.84 L226.12 140.62 L227.1 140.39 L228.09 140.16 L229.07 139.91 L230.05 139.66 L231.03 139.4 L232.01 139.14 L232.98 138.86 L233.95 138.58 L234.93 138.29 L235.89 137.99 L236.86 137.68 L237.83 137.36 L238.79 137.03 L239.75 136.69 L240.71 136.35 L241.67 135.99 L242.62 135.62 L243.57 135.25 L244.52 134.86 L245.47 134.46" fill="none" stroke="#fa0a12" stroke-width="2.2" stroke-linejoin="round" stroke-linecap="round"/>
<path d="M132.94 159.12 L133.86 158.64 L134.78 158.18 L135.71 157.72 L136.63 157.28 L137.57 156.85 L138.5 156.44 L139.44 156.03 L140.38 155.64 L141.32 155.25 L142.27 154.88 L143.22 154.52 L144.17 154.17 L145.12 153.83 L146.08 153.5 L147.03 153.18 L147.99 152.87 L148.96 152.57 L149.92 152.27 L150.89 151.99 L151.86 151.71 L152.83 151.45 L153.8 151.19 L154.78 150.94 L155.76 150.7 L156.73 150.47 L157.72 150.24 L158.7 150.02 L159.68 149.81 L160.67 149.6 L161.66 149.4 L162.65 149.21 L163.64 149.03 L164.63 148.85 L165.63 148.67 L166.62 148.5 L167.62 148.34 L168.62 148.18 L169.61 148.03 L170.62 147.88 L171.62 147.74 L172.62 147.6 L173.62 147.46 L174.63 147.33 L175.63 147.21 L176.64 147.08 L177.65 146.96 L178.66 146.84 L179.67 146.73 L180.68 146.62 L181.69 146.51 L182.7 146.4 L183.71 146.3 L184.72 146.19 L185.73 146.09 L186.75 145.99 L187.76 145.89 L188.77 145.79 L189.79 145.7 L190.8 145.6 L191.82 145.5 L192.83 145.41 L193.85 145.31 L194.86 145.21 L195.88 145.12 L196.89 145.02 L197.9 144.92 L198.92 144.82 L199.93 144.72 L200.95 144.62 L201.96 144.51 L202.97 144.41 L203.98 144.3 L205 144.19 L206.01 144.07 L207.02 143.96 L208.03 143.84 L209.04 143.71 L210.05 143.59 L211.06 143.46 L212.06 143.32 L213.07 143.19 L214.07 143.04 L215.08 142.9 L216.08 142.74 L217.08 142.59 L218.09 142.43 L219.09 142.26 L220.08 142.09 L221.08 141.91 L222.08 141.73 L223.07 141.54 L224.07 141.34 L225.06 141.14 L226.05 140.93 L227.04 140.71 L228.03 140.48 L229.01 140.25 L230 140.01 L230.98 139.77 L231.96 139.51 L232.94 139.25 L233.91 138.97 L234.89 138.69 L235.86 138.4 L236.83 138.1 L237.8 137.8 L238.77 137.48 L239.73 137.15 L240.69 136.81 L241.65 136.46 L242.61 136.11 L243.56 135.74 L244.51 135.36 L245.46 134.97" fill="none" stroke="#0c0ce0" stroke-width="2.2" stroke-linejoin="round" stroke-linecap="round"/>
<path d="M132.92 155.89 L133.87 155.46 L134.82 155.05 L135.77 154.65 L136.73 154.27 L137.69 153.9 L138.65 153.54 L139.61 153.19 L140.58 152.86 L141.54 152.54 L142.51 152.23 L143.48 151.94 L144.46 151.65 L145.43 151.38 L146.4 151.12 L147.38 150.87 L148.36 150.63 L149.34 150.4 L150.32 150.17 L151.31 149.96 L152.29 149.76 L153.28 149.57 L154.27 149.38 L155.25 149.21 L156.24 149.04 L157.24 148.88 L158.23 148.72 L159.22 148.58 L160.22 148.44 L161.22 148.31 L162.21 148.18 L163.21 148.06 L164.21 147.95 L165.21 147.84 L166.22 147.74 L167.22 147.64 L168.22 147.55 L169.23 147.46 L170.23 147.37 L171.24 147.29 L172.25 147.22 L173.26 147.14 L174.26 147.07 L175.27 147 L176.28 146.94 L177.29 146.87 L178.3 146.81 L179.32 146.75 L180.33 146.69 L181.34 146.63 L182.35 146.58 L183.37 146.52 L184.38 146.46 L185.4 146.41 L186.41 146.35 L187.42 146.29 L188.44 146.23 L189.45 146.17 L190.47 146.11 L191.48 146.04 L192.5 145.98 L193.51 145.91 L194.53 145.84 L195.54 145.77 L196.56 145.7 L197.57 145.62 L198.59 145.54 L199.6 145.46 L200.62 145.38 L201.63 145.29 L202.65 145.2 L203.66 145.11 L204.67 145.01 L205.69 144.91 L206.7 144.81 L207.71 144.71 L208.72 144.6 L209.73 144.49 L210.74 144.37 L211.75 144.25 L212.76 144.13 L213.77 144 L214.78 143.87 L215.78 143.73 L216.79 143.59 L217.79 143.45 L218.8 143.3 L219.8 143.14 L220.8 142.99 L221.8 142.82 L222.8 142.66 L223.8 142.48 L224.8 142.31 L225.8 142.12 L226.79 141.94 L227.79 141.74 L228.78 141.54 L229.77 141.34 L230.77 141.13 L231.76 140.91 L232.74 140.69 L233.73 140.46 L234.72 140.23 L235.7 139.99 L236.68 139.74 L237.66 139.49 L238.64 139.23 L239.62 138.97 L240.59 138.69 L241.57 138.42 L242.54 138.13 L243.51 137.84 L244.48 137.54 L245.45 137.23" fill="none" stroke="#22ee22" stroke-width="2.2" stroke-linejoin="round" stroke-linecap="round"/>
<rect x="216.6" y="7.6" width="126" height="65.4" fill="#fff" stroke="#b8b8b8" stroke-width="1"/>
<line x1="218" y1="16.5" x2="247.6" y2="16.5" stroke="#000000" stroke-width="2.2"/>
<text x="250.6" y="20.7" font-family='"Liberation Sans", sans-serif' font-size="12.5" font-weight="bold" text-anchor="start" fill="#111">before</text>
<line x1="218" y1="32.3" x2="247.6" y2="32.3" stroke="#fa0a12" stroke-width="2.2"/>
<text x="250.6" y="36.5" font-family='"Liberation Sans", sans-serif' font-size="12.5" font-weight="bold" text-anchor="start" fill="#111">water</text>
<line x1="218" y1="48.1" x2="247.6" y2="48.1" stroke="#0c0ce0" stroke-width="2.2"/>
<text x="250.6" y="52.3" font-family='"Liberation Sans", sans-serif' font-size="12.5" font-weight="bold" text-anchor="start" fill="#111">pump1h</text>
<line x1="218" y1="64.2" x2="247.6" y2="64.2" stroke="#22ee22" stroke-width="2.2"/>
<text x="250.6" y="68.4" font-family='"Liberation Sans", sans-serif' font-size="12.5" font-weight="bold" text-anchor="start" fill="#111">after annealing</text>
<text x="30.3" y="31.8" font-family='"Liberation Serif", serif' font-size="22" font-weight="normal" text-anchor="start" fill="#000">(a)</text>
<g transform="translate(41.7 164.6) rotate(-90)">
<text x="0" y="0" font-family='"Liberation Sans", sans-serif' font-size="21.5" fill="#000">I<tspan font-size="12.5" dy="7">DS</tspan><tspan dy="-7">(&#181;A)</tspan></text>
</g>
<text x="183.8" y="279.6" font-family='"Liberation Sans", sans-serif' font-size="21" fill="#000">V<tspan font-size="11.5" dy="7.4">G</tspan><tspan dy="-7.4">(V)</tspan></text>
<line x1="454.5" y1="24.3" x2="454.5" y2="230.8" stroke="#a6a6a6" stroke-width="1.6"/>
<line x1="453.8" y1="230.3" x2="710.98" y2="230.3" stroke="#a6a6a6" stroke-width="1.6"/>
<line x1="450.5" y1="225.2" x2="454.5" y2="225.2" stroke="#a6a6a6" stroke-width="1.3"/>
<line x1="452.5" y1="204.25" x2="454.5" y2="204.25" stroke="#a6a6a6" stroke-width="1.3"/>
<line x1="450.5" y1="183.3" x2="454.5" y2="183.3" stroke="#a6a6a6" stroke-width="1.3"/>
<line x1="452.5" y1="162.35" x2="454.5" y2="162.35" stroke="#a6a6a6" stroke-width="1.3"/>
<line x1="450.5" y1="141.4" x2="454.5" y2="141.4" stroke="#a6a6a6" stroke-width="1.3"/>
<line x1="452.5" y1="120.45" x2="454.5" y2="120.45" stroke="#a6a6a6" stroke-width="1.3"/>
<line x1="450.5" y1="99.5" x2="454.5" y2="99.5" stroke="#a6a6a6" stroke-width="1.3"/>
<line x1="452.5" y1="78.55" x2="454.5" y2="78.55" stroke="#a6a6a6" stroke-width="1.3"/>
<line x1="450.5" y1="57.6" x2="454.5" y2="57.6" stroke="#a6a6a6" stroke-width="1.3"/>
<line x1="452.5" y1="36.65" x2="454.5" y2="36.65" stroke="#a6a6a6" stroke-width="1.3"/>
<line x1="454.5" y1="230.3" x2="454.5" y2="234.3" stroke="#a6a6a6" stroke-width="1.3"/>
<line x1="472.77" y1="230.3" x2="472.77" y2="232.3" stroke="#a6a6a6" stroke-width="1.3"/>
<line x1="491.04" y1="230.3" x2="491.04" y2="234.3" stroke="#a6a6a6" stroke-width="1.3"/>
<line x1="509.31" y1="230.3" x2="509.31" y2="232.3" stroke="#a6a6a6" stroke-width="1.3"/>
<line x1="527.58" y1="230.3" x2="527.58" y2="234.3" stroke="#a6a6a6" stroke-width="1.3"/>
<line x1="545.85" y1="230.3" x2="545.85" y2="232.3" stroke="#a6a6a6" stroke-width="1.3"/>
<line x1="564.12" y1="230.3" x2="564.12" y2="234.3" stroke="#a6a6a6" stroke-width="1.3"/>
<line x1="582.39" y1="230.3" x2="582.39" y2="232.3" stroke="#a6a6a6" stroke-width="1.3"/>
<line x1="600.66" y1="230.3" x2="600.66" y2="234.3" stroke="#a6a6a6" stroke-width="1.3"/>
<line x1="618.93" y1="230.3" x2="618.93" y2="232.3" stroke="#a6a6a6" stroke-width="1.3"/>
<line x1="637.2" y1="230.3" x2="637.2" y2="234.3" stroke="#a6a6a6" stroke-width="1.3"/>
<line x1="655.47" y1="230.3" x2="655.47" y2="232.3" stroke="#a6a6a6" stroke-width="1.3"/>
<line x1="673.74" y1="230.3" x2="673.74" y2="234.3" stroke="#a6a6a6" stroke-width="1.3"/>
<line x1="692.01" y1="230.3" x2="692.01" y2="232.3" stroke="#a6a6a6" stroke-width="1.3"/>
<line x1="710.28" y1="230.3" x2="710.28" y2="234.3" stroke="#a6a6a6" stroke-width="1.3"/>
<text x="447.3" y="230.4" font-family='"Liberation Sans", sans-serif' font-size="17" font-weight="bold" text-anchor="end" fill="#000">0</text>
<text x="447.3" y="188.5" font-family='"Liberation Sans", sans-serif' font-size="17" font-weight="bold" text-anchor="end" fill="#000">1</text>
<text x="447.3" y="146.6" font-family='"Liberation Sans", sans-serif' font-size="17" font-weight="bold" text-anchor="end" fill="#000">2</text>
<text x="447.3" y="104.7" font-family='"Liberation Sans", sans-serif' font-size="17" font-weight="bold" text-anchor="end" fill="#000">3</text>
<text x="447.3" y="62.8" font-family='"Liberation Sans", sans-serif' font-size="17" font-weight="bold" text-anchor="end" fill="#000">4</text>
<text x="454.5" y="250.3" font-family='"Liberation Sans", sans-serif' font-size="17" font-weight="bold" text-anchor="middle" fill="#000">-40</text>
<text x="491.04" y="250.3" font-family='"Liberation Sans", sans-serif' font-size="17" font-weight="bold" text-anchor="middle" fill="#000">-30</text>
<text x="527.58" y="250.3" font-family='"Liberation Sans", sans-serif' font-size="17" font-weight="bold" text-anchor="middle" fill="#000">-20</text>
<text x="564.12" y="250.3" font-family='"Liberation Sans", sans-serif' font-size="17" font-weight="bold" text-anchor="middle" fill="#000">-10</text>
<text x="600.66" y="250.3" font-family='"Liberation Sans", sans-serif' font-size="17" font-weight="bold" text-anchor="middle" fill="#000">0</text>
<text x="637.2" y="250.3" font-family='"Liberation Sans", sans-serif' font-size="17" font-weight="bold" text-anchor="middle" fill="#000">10</text>
<text x="673.74" y="250.3" font-family='"Liberation Sans", sans-serif' font-size="17" font-weight="bold" text-anchor="middle" fill="#000">20</text>
<text x="710.28" y="250.3" font-family='"Liberation Sans", sans-serif' font-size="17" font-weight="bold" text-anchor="middle" fill="#000">30</text>
<path d="M472 225.62 L473 225.58 L474.01 225.55 L475.01 225.52 L476.02 225.5 L477.02 225.48 L478.03 225.47 L479.03 225.46 L480.04 225.45 L481.04 225.45 L482.05 225.44 L483.05 225.45 L484.05 225.45 L485.06 225.46 L486.06 225.46 L487.07 225.47 L488.07 225.48 L489.08 225.49 L490.08 225.5 L491.09 225.51 L492.09 225.52 L493.1 225.53 L494.1 225.54 L495.11 225.55 L496.11 225.55 L497.11 225.55 L498.12 225.55 L499.12 225.55 L500.13 225.55 L501.13 225.54 L502.14 225.53 L503.14 225.51 L504.15 225.49 L505.15 225.47 L506.16 225.44 L507.16 225.41 L508.16 225.37 L509.17 225.32 L510.17 225.27 L511.18 225.21 L512.18 225.15 L513.19 225.07 L514.19 224.99 L515.2 224.91 L516.2 224.81 L517.21 224.71 L518.21 224.59 L519.21 224.47 L520.22 224.34 L521.22 224.2 L522.23 224.05 L523.23 223.89 L524.24 223.71 L525.24 223.53 L526.25 223.34 L527.25 223.13 L528.26 222.91 L529.26 222.68 L530.26 222.44 L531.27 222.19 L532.27 221.93 L533.28 221.66 L534.28 221.38 L535.29 221.09 L536.29 220.8 L537.3 220.5 L538.3 220.2 L539.31 219.89 L540.31 219.58 L541.32 219.27 L542.32 218.96 L543.32 218.64 L544.33 218.32 L545.33 218 L546.34 217.68 L547.34 217.36 L548.35 217.03 L549.35 216.7 L550.36 216.37 L551.36 216.03 L552.37 215.69 L553.37 215.34 L554.37 214.99 L555.38 214.63 L556.38 214.27 L557.39 213.9 L558.39 213.52 L559.4 213.14 L560.4 212.75 L561.41 212.36 L562.41 211.96 L563.42 211.55 L564.42 211.13 L565.42 210.71 L566.43 210.28 L567.43 209.84 L568.44 209.4 L569.44 208.95 L570.45 208.49 L571.45 208.02 L572.46 207.54 L573.46 207.06 L574.47 206.57 L575.47 206.07 L576.47 205.56 L577.48 205.04 L578.48 204.51 L579.49 203.97 L580.49 203.43 L581.5 202.88 L582.5 202.31 L583.51 201.74 L584.51 201.16 L585.52 200.56 L586.52 199.96 L587.53 199.35 L588.53 198.73 L589.53 198.11 L590.54 197.47 L591.54 196.82 L592.55 196.17 L593.55 195.5 L594.56 194.83 L595.56 194.15 L596.57 193.45 L597.57 192.75 L598.58 192.05 L599.58 191.33 L600.58 190.6 L601.59 189.87 L602.59 189.12 L603.6 188.37 L604.6 187.61 L605.61 186.84 L606.61 186.07 L607.62 185.28 L608.62 184.49 L609.63 183.68 L610.63 182.87 L611.63 182.05 L612.64 181.23 L613.64 180.39 L614.65 179.55 L615.65 178.7 L616.66 177.84 L617.66 176.97 L618.67 176.1 L619.67 175.22 L620.68 174.33 L621.68 173.43 L622.68 172.52 L623.69 171.61 L624.69 170.69 L625.7 169.76 L626.7 168.82 L627.71 167.88 L628.71 166.93 L629.72 165.97 L630.72 165.01 L631.73 164.03 L632.73 163.05 L633.74 162.06 L634.74 161.07 L635.74 160.07 L636.75 159.06 L637.75 158.04 L638.76 157.02 L639.76 155.99 L640.77 154.95 L641.77 153.91 L642.78 152.86 L643.78 151.8 L644.79 150.74 L645.79 149.66 L646.79 148.59 L647.8 147.5 L648.8 146.41 L649.81 145.31 L650.81 144.21 L651.82 143.1 L652.82 141.98 L653.83 140.86 L654.83 139.73 L655.84 138.6 L656.84 137.45 L657.84 136.31 L658.85 135.15 L659.85 133.99 L660.86 132.83 L661.86 131.65 L662.87 130.47 L663.87 129.29 L664.88 128.1 L665.88 126.9 L666.89 125.7 L667.89 124.49 L668.89 123.28 L669.9 122.06 L670.9 120.84 L671.91 119.61 L672.91 118.37 L673.92 117.13 L674.92 115.88 L675.93 114.63 L676.93 113.38 L677.94 112.11 L678.94 110.84 L679.95 109.57 L680.95 108.29 L681.95 107.01 L682.96 105.72 L683.96 104.43 L684.97 103.13 L685.97 101.82 L686.98 100.52 L687.98 99.2 L688.99 97.88 L689.99 96.56 L691 95.23 L692 93.9" fill="none" stroke="#000000" stroke-width="2.7" stroke-linejoin="round" stroke-linecap="round"/>
<path d="M472 225.96 L473.01 225.93 L474.01 225.89 L475.02 225.86 L476.02 225.83 L477.03 225.8 L478.03 225.77 L479.04 225.73 L480.04 225.7 L481.05 225.67 L482.05 225.64 L483.06 225.61 L484.06 225.58 L485.07 225.55 L486.07 225.52 L487.08 225.49 L488.08 225.46 L489.09 225.43 L490.09 225.4 L491.1 225.37 L492.1 225.34 L493.11 225.31 L494.11 225.28 L495.12 225.25 L496.12 225.21 L497.13 225.18 L498.13 225.15 L499.14 225.12 L500.14 225.08 L501.15 225.05 L502.15 225.01 L503.16 224.98 L504.16 224.94 L505.17 224.9 L506.17 224.87 L507.18 224.83 L508.18 224.79 L509.19 224.75 L510.19 224.71 L511.2 224.67 L512.2 224.62 L513.21 224.58 L514.21 224.54 L515.22 224.49 L516.22 224.44 L517.23 224.39 L518.23 224.35 L519.24 224.29 L520.24 224.24 L521.25 224.19 L522.25 224.14 L523.26 224.08 L524.26 224.02 L525.27 223.96 L526.27 223.9 L527.28 223.84 L528.28 223.78 L529.29 223.72 L530.29 223.65 L531.3 223.58 L532.3 223.51 L533.31 223.44 L534.31 223.37 L535.32 223.29 L536.32 223.22 L537.33 223.14 L538.33 223.06 L539.34 222.97 L540.34 222.89 L541.35 222.8 L542.35 222.71 L543.36 222.62 L544.36 222.53 L545.37 222.43 L546.37 222.34 L547.38 222.24 L548.38 222.14 L549.39 222.03 L550.39 221.93 L551.4 221.82 L552.4 221.71 L553.41 221.59 L554.41 221.47 L555.42 221.36 L556.42 221.23 L557.43 221.11 L558.43 220.98 L559.44 220.85 L560.44 220.72 L561.45 220.59 L562.45 220.45 L563.46 220.31 L564.46 220.16 L565.47 220.02 L566.47 219.87 L567.48 219.72 L568.48 219.56 L569.49 219.4 L570.49 219.24 L571.5 219.07 L572.5 218.91 L573.51 218.74 L574.51 218.56 L575.52 218.38 L576.52 218.2 L577.53 218.02 L578.53 217.83 L579.54 217.64 L580.54 217.44 L581.55 217.24 L582.56 217.04 L583.56 216.84 L584.57 216.63 L585.57 216.41 L586.58 216.2 L587.58 215.98 L588.59 215.75 L589.59 215.52 L590.6 215.29 L591.6 215.06 L592.61 214.82 L593.61 214.57 L594.62 214.33 L595.62 214.07 L596.63 213.82 L597.63 213.56 L598.64 213.29 L599.64 213.03 L600.65 212.75 L601.65 212.48 L602.66 212.19 L603.66 211.91 L604.67 211.62 L605.67 211.32 L606.68 211.03 L607.68 210.72 L608.69 210.41 L609.69 210.1 L610.7 209.78 L611.7 209.46 L612.71 209.14 L613.71 208.8 L614.72 208.47 L615.72 208.13 L616.73 207.78 L617.73 207.43 L618.74 207.07 L619.74 206.71 L620.75 206.35 L621.75 205.98 L622.76 205.6 L623.76 205.22 L624.77 204.84 L625.77 204.44 L626.78 204.05 L627.78 203.65 L628.79 203.24 L629.79 202.83 L630.8 202.41 L631.8 201.98 L632.81 201.56 L633.81 201.12 L634.82 200.68 L635.82 200.24 L636.83 199.79 L637.83 199.33 L638.84 198.87 L639.84 198.4 L640.85 197.92 L641.85 197.44 L642.86 196.96 L643.86 196.47 L644.87 195.97 L645.87 195.47 L646.88 194.96 L647.88 194.44 L648.89 193.92 L649.89 193.39 L650.9 192.86 L651.9 192.32 L652.91 191.77 L653.91 191.22 L654.92 190.66 L655.92 190.1 L656.93 189.52 L657.93 188.95 L658.94 188.36 L659.94 187.77 L660.95 187.17 L661.95 186.57 L662.96 185.96 L663.96 185.34 L664.97 184.72 L665.97 184.09 L666.98 183.45 L667.98 182.81 L668.99 182.15 L669.99 181.5 L671 180.83 L672 180.16 L673.01 179.48 L674.01 178.79 L675.02 178.1 L676.02 177.4 L677.03 176.69 L678.03 175.98 L679.04 175.26 L680.04 174.53 L681.05 173.79 L682.05 173.05 L683.06 172.3 L684.06 171.54 L685.07 170.77 L686.07 170 L687.08 169.22 L688.08 168.43 L689.09 167.63 L690.09 166.83 L691.1 166.02" fill="none" stroke="#fa0a12" stroke-width="2.7" stroke-linejoin="round" stroke-linecap="round"/>
<path d="M472 225.74 L473.01 225.7 L474.01 225.67 L475.02 225.63 L476.03 225.59 L477.04 225.56 L478.04 225.52 L479.05 225.49 L480.06 225.45 L481.07 225.42 L482.07 225.38 L483.08 225.35 L484.09 225.31 L485.1 225.27 L486.1 225.24 L487.11 225.2 L488.12 225.16 L489.12 225.13 L490.13 225.09 L491.14 225.05 L492.15 225.01 L493.15 224.97 L494.16 224.93 L495.17 224.89 L496.18 224.85 L497.18 224.81 L498.19 224.77 L499.2 224.73 L500.21 224.68 L501.21 224.64 L502.22 224.59 L503.23 224.55 L504.23 224.5 L505.24 224.45 L506.25 224.41 L507.26 224.36 L508.26 224.31 L509.27 224.26 L510.28 224.2 L511.29 224.15 L512.29 224.1 L513.3 224.04 L514.31 223.98 L515.32 223.93 L516.32 223.87 L517.33 223.81 L518.34 223.75 L519.34 223.68 L520.35 223.62 L521.36 223.55 L522.37 223.49 L523.37 223.42 L524.38 223.35 L525.39 223.28 L526.4 223.2 L527.4 223.13 L528.41 223.05 L529.42 222.97 L530.43 222.89 L531.43 222.81 L532.44 222.73 L533.45 222.64 L534.46 222.56 L535.46 222.47 L536.47 222.38 L537.48 222.29 L538.48 222.19 L539.49 222.09 L540.5 222 L541.51 221.9 L542.51 221.79 L543.52 221.69 L544.53 221.58 L545.54 221.47 L546.54 221.36 L547.55 221.25 L548.56 221.13 L549.57 221.01 L550.57 220.89 L551.58 220.77 L552.59 220.64 L553.59 220.52 L554.6 220.39 L555.61 220.25 L556.62 220.12 L557.62 219.98 L558.63 219.84 L559.64 219.7 L560.65 219.55 L561.65 219.4 L562.66 219.25 L563.67 219.1 L564.68 218.94 L565.68 218.78 L566.69 218.62 L567.7 218.45 L568.7 218.28 L569.71 218.11 L570.72 217.94 L571.73 217.76 L572.73 217.58 L573.74 217.39 L574.75 217.21 L575.76 217.02 L576.76 216.82 L577.77 216.63 L578.78 216.43 L579.79 216.22 L580.79 216.02 L581.8 215.81 L582.81 215.59 L583.81 215.37 L584.82 215.15 L585.83 214.93 L586.84 214.7 L587.84 214.47 L588.85 214.24 L589.86 214 L590.87 213.76 L591.87 213.51 L592.88 213.26 L593.89 213 L594.9 212.75 L595.9 212.48 L596.91 212.22 L597.92 211.95 L598.92 211.67 L599.93 211.4 L600.94 211.11 L601.95 210.83 L602.95 210.53 L603.96 210.24 L604.97 209.94 L605.98 209.63 L606.98 209.32 L607.99 209.01 L609 208.69 L610.01 208.37 L611.01 208.04 L612.02 207.71 L613.03 207.37 L614.03 207.03 L615.04 206.68 L616.05 206.33 L617.06 205.97 L618.06 205.61 L619.07 205.24 L620.08 204.87 L621.09 204.49 L622.09 204.11 L623.1 203.72 L624.11 203.33 L625.12 202.93 L626.12 202.52 L627.13 202.11 L628.14 201.7 L629.14 201.28 L630.15 200.85 L631.16 200.42 L632.17 199.98 L633.17 199.54 L634.18 199.09 L635.19 198.64 L636.2 198.17 L637.2 197.71 L638.21 197.24 L639.22 196.76 L640.23 196.27 L641.23 195.78 L642.24 195.28 L643.25 194.78 L644.26 194.27 L645.26 193.76 L646.27 193.23 L647.28 192.7 L648.28 192.17 L649.29 191.63 L650.3 191.08 L651.31 190.53 L652.31 189.96 L653.32 189.4 L654.33 188.82 L655.34 188.24 L656.34 187.65 L657.35 187.06 L658.36 186.46 L659.37 185.85 L660.37 185.23 L661.38 184.61 L662.39 183.98 L663.39 183.34 L664.4 182.7 L665.41 182.05 L666.42 181.39 L667.42 180.72 L668.43 180.05 L669.44 179.37 L670.45 178.68 L671.45 177.98 L672.46 177.28 L673.47 176.57 L674.48 175.85 L675.48 175.13 L676.49 174.39 L677.5 173.65 L678.5 172.9 L679.51 172.14 L680.52 171.38 L681.53 170.61 L682.53 169.82 L683.54 169.03 L684.55 168.24 L685.56 167.43 L686.56 166.62 L687.57 165.8 L688.58 164.97 L689.59 164.13 L690.59 163.28 L691.6 162.43" fill="none" stroke="#0c0ce0" stroke-width="2.7" stroke-linejoin="round" stroke-linecap="round"/>
<path d="M472 225.96 L473.01 225.92 L474.01 225.88 L475.02 225.84 L476.02 225.8 L477.03 225.76 L478.03 225.73 L479.04 225.69 L480.04 225.65 L481.05 225.61 L482.05 225.58 L483.06 225.54 L484.06 225.5 L485.07 225.46 L486.07 225.43 L487.08 225.39 L488.08 225.35 L489.09 225.31 L490.09 225.28 L491.1 225.24 L492.1 225.2 L493.11 225.16 L494.11 225.12 L495.12 225.08 L496.12 225.04 L497.13 225 L498.13 224.96 L499.14 224.92 L500.14 224.88 L501.15 224.84 L502.15 224.8 L503.16 224.75 L504.16 224.71 L505.17 224.66 L506.17 224.62 L507.18 224.57 L508.18 224.52 L509.19 224.48 L510.19 224.43 L511.2 224.38 L512.2 224.33 L513.21 224.27 L514.21 224.22 L515.22 224.17 L516.22 224.11 L517.23 224.05 L518.23 224 L519.24 223.94 L520.24 223.88 L521.25 223.82 L522.25 223.75 L523.26 223.69 L524.26 223.62 L525.27 223.56 L526.27 223.49 L527.28 223.42 L528.28 223.34 L529.29 223.27 L530.29 223.2 L531.3 223.12 L532.3 223.04 L533.31 222.96 L534.31 222.88 L535.32 222.79 L536.32 222.71 L537.33 222.62 L538.33 222.53 L539.34 222.44 L540.34 222.35 L541.35 222.25 L542.35 222.15 L543.36 222.05 L544.36 221.95 L545.37 221.85 L546.37 221.74 L547.38 221.63 L548.38 221.52 L549.39 221.41 L550.39 221.29 L551.4 221.18 L552.4 221.06 L553.41 220.93 L554.41 220.81 L555.42 220.68 L556.42 220.55 L557.43 220.42 L558.43 220.28 L559.44 220.14 L560.44 220 L561.45 219.86 L562.45 219.71 L563.46 219.56 L564.46 219.41 L565.47 219.25 L566.47 219.1 L567.48 218.93 L568.48 218.77 L569.49 218.6 L570.49 218.43 L571.5 218.26 L572.5 218.08 L573.51 217.9 L574.51 217.72 L575.52 217.53 L576.52 217.34 L577.53 217.15 L578.53 216.95 L579.54 216.75 L580.54 216.55 L581.55 216.34 L582.56 216.13 L583.56 215.92 L584.57 215.7 L585.57 215.48 L586.58 215.25 L587.58 215.02 L588.59 214.79 L589.59 214.56 L590.6 214.32 L591.6 214.07 L592.61 213.82 L593.61 213.57 L594.62 213.32 L595.62 213.06 L596.63 212.79 L597.63 212.53 L598.64 212.25 L599.64 211.98 L600.65 211.7 L601.65 211.41 L602.66 211.12 L603.66 210.83 L604.67 210.53 L605.67 210.23 L606.68 209.93 L607.68 209.62 L608.69 209.3 L609.69 208.98 L610.7 208.66 L611.7 208.33 L612.71 207.99 L613.71 207.66 L614.72 207.31 L615.72 206.97 L616.73 206.61 L617.73 206.26 L618.74 205.9 L619.74 205.53 L620.75 205.16 L621.75 204.78 L622.76 204.4 L623.76 204.01 L624.77 203.62 L625.77 203.22 L626.78 202.82 L627.78 202.41 L628.79 202 L629.79 201.58 L630.8 201.16 L631.8 200.73 L632.81 200.3 L633.81 199.86 L634.82 199.42 L635.82 198.97 L636.83 198.51 L637.83 198.05 L638.84 197.58 L639.84 197.11 L640.85 196.63 L641.85 196.15 L642.86 195.66 L643.86 195.16 L644.87 194.66 L645.87 194.16 L646.88 193.64 L647.88 193.13 L648.89 192.6 L649.89 192.07 L650.9 191.54 L651.9 190.99 L652.91 190.44 L653.91 189.89 L654.92 189.33 L655.92 188.76 L656.93 188.19 L657.93 187.61 L658.94 187.02 L659.94 186.43 L660.95 185.83 L661.95 185.23 L662.96 184.62 L663.96 184 L664.97 183.37 L665.97 182.74 L666.98 182.1 L667.98 181.46 L668.99 180.81 L669.99 180.15 L671 179.49 L672 178.82 L673.01 178.14 L674.01 177.45 L675.02 176.76 L676.02 176.06 L677.03 175.36 L678.03 174.64 L679.04 173.92 L680.04 173.2 L681.05 172.46 L682.05 171.72 L683.06 170.97 L684.06 170.22 L685.07 169.46 L686.07 168.69 L687.08 167.91 L688.08 167.12 L689.09 166.33 L690.09 165.53 L691.1 164.72" fill="none" stroke="#22ee22" stroke-width="3.1" stroke-linejoin="round" stroke-linecap="round"/>
<line x1="483.4" y1="58.3" x2="483.4" y2="165.2" stroke="#999999" stroke-width="1.3"/>
<line x1="482.9" y1="164.7" x2="614.2" y2="164.7" stroke="#999999" stroke-width="1.3"/>
<line x1="481.2" y1="164.79" x2="483.4" y2="164.79" stroke="#999999" stroke-width="1"/>
<line x1="482.2" y1="155.93" x2="483.4" y2="155.93" stroke="#999999" stroke-width="1"/>
<line x1="481.2" y1="147.06" x2="483.4" y2="147.06" stroke="#999999" stroke-width="1"/>
<line x1="482.2" y1="138.19" x2="483.4" y2="138.19" stroke="#999999" stroke-width="1"/>
<line x1="481.2" y1="129.33" x2="483.4" y2="129.33" stroke="#999999" stroke-width="1"/>
<line x1="482.2" y1="120.46" x2="483.4" y2="120.46" stroke="#999999" stroke-width="1"/>
<line x1="481.2" y1="111.6" x2="483.4" y2="111.6" stroke="#999999" stroke-width="1"/>
<line x1="482.2" y1="102.73" x2="483.4" y2="102.73" stroke="#999999" stroke-width="1"/>
<line x1="481.2" y1="93.87" x2="483.4" y2="93.87" stroke="#999999" stroke-width="1"/>
<line x1="482.2" y1="85" x2="483.4" y2="85" stroke="#999999" stroke-width="1"/>
<line x1="481.2" y1="76.14" x2="483.4" y2="76.14" stroke="#999999" stroke-width="1"/>
<line x1="482.2" y1="67.27" x2="483.4" y2="67.27" stroke="#999999" stroke-width="1"/>
<line x1="481.2" y1="58.41" x2="483.4" y2="58.41" stroke="#999999" stroke-width="1"/>
<line x1="483.4" y1="164.7" x2="483.4" y2="166.9" stroke="#999999" stroke-width="1"/>
<line x1="499.69" y1="164.7" x2="499.69" y2="165.9" stroke="#999999" stroke-width="1"/>
<line x1="515.97" y1="164.7" x2="515.97" y2="166.9" stroke="#999999" stroke-width="1"/>
<line x1="532.26" y1="164.7" x2="532.26" y2="165.9" stroke="#999999" stroke-width="1"/>
<line x1="548.55" y1="164.7" x2="548.55" y2="166.9" stroke="#999999" stroke-width="1"/>
<line x1="564.84" y1="164.7" x2="564.84" y2="165.9" stroke="#999999" stroke-width="1"/>
<line x1="581.12" y1="164.7" x2="581.12" y2="166.9" stroke="#999999" stroke-width="1"/>
<line x1="597.41" y1="164.7" x2="597.41" y2="165.9" stroke="#999999" stroke-width="1"/>
<line x1="613.7" y1="164.7" x2="613.7" y2="166.9" stroke="#999999" stroke-width="1"/>
<text x="479.3" y="167.69" font-family='"Liberation Sans", sans-serif' font-size="8.5" font-weight="bold" text-anchor="end" fill="#222">-3</text>
<text x="479.3" y="149.96" font-family='"Liberation Sans", sans-serif' font-size="8.5" font-weight="bold" text-anchor="end" fill="#222">-2</text>
<text x="479.3" y="132.23" font-family='"Liberation Sans", sans-serif' font-size="8.5" font-weight="bold" text-anchor="end" fill="#222">-1</text>
<text x="479.3" y="114.5" font-family='"Liberation Sans", sans-serif' font-size="8.5" font-weight="bold" text-anchor="end" fill="#222">0</text>
<text x="479.3" y="96.77" font-family='"Liberation Sans", sans-serif' font-size="8.5" font-weight="bold" text-anchor="end" fill="#222">1</text>
<text x="479.3" y="79.04" font-family='"Liberation Sans", sans-serif' font-size="8.5" font-weight="bold" text-anchor="end" fill="#222">2</text>
<text x="479.3" y="61.31" font-family='"Liberation Sans", sans-serif' font-size="8.5" font-weight="bold" text-anchor="end" fill="#222">3</text>
<text x="483.4" y="176.2" font-family='"Liberation Sans", sans-serif' font-size="8.5" font-weight="bold" text-anchor="middle" fill="#222">-1.0</text>
<text x="515.97" y="176.2" font-family='"Liberation Sans", sans-serif' font-size="8.5" font-weight="bold" text-anchor="middle" fill="#222">-0.5</text>
<text x="548.55" y="176.2" font-family='"Liberation Sans", sans-serif' font-size="8.5" font-weight="bold" text-anchor="middle" fill="#222">0.0</text>
<text x="581.12" y="176.2" font-family='"Liberation Sans", sans-serif' font-size="8.5" font-weight="bold" text-anchor="middle" fill="#222">0.5</text>
<text x="613.7" y="176.2" font-family='"Liberation Sans", sans-serif' font-size="8.5" font-weight="bold" text-anchor="middle" fill="#222">1.0</text>
<g transform="translate(464.8 129) rotate(-90)">
<text x="0" y="0" font-family='"Liberation Sans", sans-serif' font-size="10.5" fill="#444">I<tspan font-size="6.8" dy="3">DS</tspan><tspan dy="-3">(&#181;A)</tspan></text>
</g>
<text x="534.3" y="189" font-family='"Liberation Sans", sans-serif' font-size="10.5" fill="#555">V<tspan font-size="6.5" dy="3.3">DS</tspan><tspan dy="-3.3">(V)</tspan></text>
<path d="M484.07 157.9 L484.74 157.2 L485.41 156.5 L486.08 155.8 L486.76 155.1 L487.44 154.39 L488.13 153.69 L488.82 152.98 L489.51 152.27 L490.21 151.56 L490.91 150.85 L491.62 150.14 L492.32 149.43 L493.04 148.73 L493.75 148.02 L494.47 147.31 L495.2 146.6 L495.92 145.89 L496.65 145.19 L497.39 144.48 L498.13 143.78 L498.87 143.08 L499.61 142.38 L500.36 141.69 L501.12 140.99 L501.87 140.3 L502.63 139.61 L503.4 138.93 L504.17 138.24 L504.94 137.56 L505.71 136.89 L506.49 136.22 L507.27 135.55 L508.06 134.89 L508.85 134.23 L509.64 133.57 L510.44 132.92 L511.24 132.28 L512.05 131.64 L512.85 131.01 L513.67 130.38 L514.48 129.76 L515.3 129.14 L516.12 128.53 L516.95 127.93 L517.78 127.33 L518.61 126.74 L519.45 126.16 L520.29 125.58 L521.13 125.02 L521.98 124.46 L522.83 123.9 L523.68 123.36 L524.54 122.83 L525.4 122.3 L526.27 121.78 L527.14 121.27 L528.01 120.77 L528.89 120.28 L529.76 119.8 L530.65 119.32 L531.53 118.86 L532.42 118.4 L533.31 117.95 L534.21 117.51 L535.1 117.07 L536 116.64 L536.91 116.22 L537.81 115.8 L538.72 115.39 L539.62 114.98 L540.54 114.57 L541.45 114.17 L542.36 113.77 L543.28 113.37 L544.19 112.98 L545.11 112.58 L546.03 112.19 L546.95 111.8 L547.87 111.41 L548.79 111.01 L549.71 110.62 L550.64 110.23 L551.56 109.83 L552.48 109.44 L553.4 109.04 L554.33 108.63 L555.25 108.23 L556.17 107.82 L557.09 107.4 L558.02 106.99 L558.94 106.57 L559.86 106.14 L560.78 105.71 L561.69 105.28 L562.61 104.85 L563.53 104.41 L564.44 103.97 L565.35 103.52 L566.26 103.07 L567.17 102.62 L568.08 102.16 L568.99 101.7 L569.89 101.24 L570.79 100.77 L571.69 100.3 L572.59 99.83 L573.48 99.35 L574.37 98.87 L575.26 98.39 L576.15 97.9 L577.03 97.41 L577.91 96.92 L578.79 96.42 L579.66 95.92 L580.53 95.41 L581.4 94.9 L582.26 94.38 L583.12 93.85 L583.97 93.31 L584.82 92.77 L585.67 92.22 L586.51 91.66 L587.35 91.09 L588.18 90.52 L589.01 89.93 L589.84 89.33 L590.66 88.73 L591.47 88.12 L592.28 87.5 L593.09 86.87 L593.89 86.24 L594.69 85.6 L595.48 84.95 L596.26 84.3 L597.05 83.64 L597.82 82.97 L598.59 82.3 L599.36 81.63 L600.12 80.95 L600.88 80.26 L601.63 79.57 L602.37 78.88 L603.11 78.18 L603.85 77.48 L604.57 76.78 L605.3 76.07 L606.02 75.36 L606.73 74.65 L607.43 73.94 L608.13 73.22 L608.83 72.51 L609.52 71.79 L610.2 71.07 L610.88 70.35 L611.55 69.63 L612.21 68.91 L612.87 68.19 L613.52 67.48" fill="none" stroke="#000000" stroke-width="1.8" stroke-linejoin="round" stroke-linecap="round"/>
<path d="M483.97 130.33 L484.86 129.87 L485.76 129.42 L486.66 128.96 L487.56 128.51 L488.46 128.06 L489.37 127.61 L490.28 127.16 L491.19 126.72 L492.1 126.28 L493.02 125.84 L493.94 125.4 L494.86 124.97 L495.79 124.54 L496.71 124.12 L497.64 123.7 L498.57 123.29 L499.51 122.88 L500.44 122.48 L501.38 122.08 L502.32 121.69 L503.26 121.31 L504.21 120.93 L505.15 120.56 L506.1 120.2 L507.05 119.84 L508 119.49 L508.95 119.15 L509.91 118.82 L510.87 118.5 L511.83 118.18 L512.79 117.88 L513.75 117.58 L514.71 117.29 L515.68 117 L516.64 116.73 L517.61 116.46 L518.58 116.21 L519.55 115.96 L520.53 115.71 L521.5 115.48 L522.47 115.25 L523.45 115.03 L524.43 114.82 L525.41 114.61 L526.39 114.41 L527.37 114.21 L528.35 114.02 L529.33 113.83 L530.32 113.65 L531.3 113.47 L532.29 113.29 L533.28 113.12 L534.27 112.95 L535.25 112.78 L536.24 112.62 L537.23 112.46 L538.22 112.3 L539.22 112.14 L540.21 111.98 L541.2 111.83 L542.19 111.67 L543.19 111.51 L544.18 111.36 L545.18 111.2 L546.17 111.04 L547.17 110.89 L548.16 110.73 L549.16 110.56 L550.16 110.4 L551.15 110.23 L552.15 110.07 L553.15 109.9 L554.14 109.73 L555.14 109.55 L556.14 109.38 L557.13 109.2 L558.13 109.02 L559.13 108.84 L560.12 108.65 L561.12 108.46 L562.12 108.28 L563.11 108.08 L564.11 107.89 L565.1 107.69 L566.1 107.49 L567.09 107.29 L568.09 107.09 L569.08 106.88 L570.07 106.67 L571.07 106.46 L572.06 106.25 L573.05 106.03 L574.04 105.81 L575.03 105.58 L576.02 105.36 L577.01 105.13 L577.99 104.9 L578.98 104.66 L579.97 104.43 L580.95 104.19 L581.93 103.94 L582.92 103.7 L583.9 103.45 L584.88 103.19 L585.86 102.94 L586.84 102.68 L587.81 102.41 L588.79 102.15 L589.76 101.88 L590.74 101.6 L591.71 101.33 L592.68 101.05 L593.65 100.77 L594.61 100.48 L595.58 100.19 L596.54 99.89 L597.51 99.6 L598.47 99.29 L599.43 98.99 L600.39 98.68 L601.34 98.37 L602.3 98.05 L603.25 97.73 L604.2 97.41 L605.15 97.08 L606.09 96.75 L607.04 96.41 L607.98 96.07 L608.92 95.73 L609.86 95.38 L610.8 95.03 L611.73 94.67 L612.66 94.31 L613.59 93.94" fill="none" stroke="#fa0a12" stroke-width="2.2" stroke-linejoin="round" stroke-linecap="round"/>
<path d="M483.85 132.38 L484.72 131.81 L485.6 131.25 L486.48 130.69 L487.36 130.14 L488.24 129.61 L489.13 129.08 L490.03 128.55 L490.92 128.04 L491.82 127.53 L492.72 127.04 L493.62 126.55 L494.53 126.07 L495.44 125.59 L496.35 125.13 L497.27 124.67 L498.19 124.23 L499.11 123.79 L500.03 123.36 L500.96 122.94 L501.89 122.52 L502.82 122.12 L503.75 121.72 L504.69 121.33 L505.63 120.95 L506.57 120.58 L507.51 120.22 L508.46 119.87 L509.4 119.52 L510.35 119.19 L511.31 118.86 L512.26 118.54 L513.22 118.23 L514.18 117.93 L515.14 117.64 L516.1 117.35 L517.06 117.08 L518.03 116.81 L519 116.56 L519.97 116.31 L520.94 116.06 L521.91 115.83 L522.89 115.6 L523.86 115.38 L524.84 115.17 L525.82 114.96 L526.8 114.76 L527.78 114.56 L528.76 114.37 L529.75 114.18 L530.73 114 L531.72 113.82 L532.71 113.64 L533.7 113.47 L534.69 113.3 L535.68 113.14 L536.67 112.97 L537.67 112.81 L538.66 112.65 L539.66 112.49 L540.65 112.33 L541.65 112.18 L542.65 112.02 L543.64 111.86 L544.64 111.7 L545.64 111.55 L546.64 111.39 L547.64 111.23 L548.64 111.07 L549.65 110.9 L550.65 110.74 L551.65 110.57 L552.65 110.4 L553.65 110.23 L554.66 110.05 L555.66 109.88 L556.66 109.7 L557.67 109.52 L558.67 109.34 L559.67 109.15 L560.68 108.97 L561.68 108.78 L562.68 108.59 L563.68 108.4 L564.69 108.2 L565.69 108 L566.69 107.81 L567.69 107.6 L568.69 107.4 L569.69 107.19 L570.69 106.99 L571.69 106.78 L572.69 106.56 L573.69 106.35 L574.69 106.13 L575.69 105.91 L576.68 105.69 L577.68 105.46 L578.67 105.24 L579.67 105.01 L580.66 104.78 L581.65 104.54 L582.64 104.3 L583.63 104.06 L584.62 103.82 L585.61 103.58 L586.59 103.33 L587.58 103.08 L588.56 102.83 L589.54 102.58 L590.52 102.32 L591.5 102.06 L592.48 101.8 L593.46 101.53 L594.43 101.26 L595.4 100.99 L596.38 100.72 L597.35 100.45 L598.31 100.17 L599.28 99.89 L600.24 99.6 L601.21 99.32 L602.17 99.03 L603.13 98.73 L604.08 98.44 L605.04 98.14 L605.99 97.84 L606.94 97.54 L607.89 97.23 L608.84 96.92 L609.78 96.61 L610.72 96.29 L611.66 95.97 L612.6 95.65 L613.53 95.33" fill="none" stroke="#22ee22" stroke-width="2.2" stroke-linejoin="round" stroke-linecap="round"/>
<rect x="576" y="3.6" width="120.4" height="62.8" fill="#fff" stroke="#b8b8b8" stroke-width="1"/>
<line x1="576.6" y1="12.4" x2="605" y2="12.4" stroke="#000000" stroke-width="2.2"/>
<text x="608" y="16.6" font-family='"Liberation Sans", sans-serif' font-size="12.1" font-weight="bold" text-anchor="start" fill="#111">before</text>
<line x1="576.6" y1="27.4" x2="605" y2="27.4" stroke="#fa0a12" stroke-width="2.2"/>
<text x="608" y="31.6" font-family='"Liberation Sans", sans-serif' font-size="12.1" font-weight="bold" text-anchor="start" fill="#111">water</text>
<line x1="576.6" y1="42.4" x2="605" y2="42.4" stroke="#0c0ce0" stroke-width="2.2"/>
<text x="608" y="46.6" font-family='"Liberation Sans", sans-serif' font-size="12.1" font-weight="bold" text-anchor="start" fill="#111">pump1h</text>
<line x1="576.6" y1="57.8" x2="605" y2="57.8" stroke="#22ee22" stroke-width="2.2"/>
<text x="608" y="62" font-family='"Liberation Sans", sans-serif' font-size="12.1" font-weight="bold" text-anchor="start" fill="#111">after annealing</text>
<text x="409.3" y="29.3" font-family='"Liberation Serif", serif' font-size="22" font-weight="normal" text-anchor="start" fill="#000">(b)</text>
<g transform="translate(424.8 159) rotate(-90)">
<text x="0" y="0" font-family='"Liberation Sans", sans-serif' font-size="21.5" fill="#000">I<tspan font-size="12.5" dy="7">DS</tspan><tspan dy="-7">(&#181;A)</tspan></text>
</g>
<text x="556.6" y="279.7" font-family='"Liberation Sans", sans-serif' font-size="21" fill="#000">V<tspan font-size="11.5" dy="7.4">G</tspan><tspan dy="-7.4">(V)</tspan></text>
<line x1="82.7" y1="310.7" x2="82.7" y2="517" stroke="#a6a6a6" stroke-width="1.6"/>
<line x1="82" y1="516.5" x2="339" y2="516.5" stroke="#a6a6a6" stroke-width="1.6"/>
<line x1="78.7" y1="516.5" x2="82.7" y2="516.5" stroke="#a6a6a6" stroke-width="1.3"/>
<line x1="80.7" y1="492.21" x2="82.7" y2="492.21" stroke="#a6a6a6" stroke-width="1.3"/>
<line x1="78.7" y1="481.75" x2="82.7" y2="481.75" stroke="#a6a6a6" stroke-width="1.3"/>
<line x1="80.7" y1="457.46" x2="82.7" y2="457.46" stroke="#a6a6a6" stroke-width="1.3"/>
<line x1="78.7" y1="447" x2="82.7" y2="447" stroke="#a6a6a6" stroke-width="1.3"/>
<line x1="80.7" y1="422.71" x2="82.7" y2="422.71" stroke="#a6a6a6" stroke-width="1.3"/>
<line x1="78.7" y1="412.25" x2="82.7" y2="412.25" stroke="#a6a6a6" stroke-width="1.3"/>
<line x1="80.7" y1="387.96" x2="82.7" y2="387.96" stroke="#a6a6a6" stroke-width="1.3"/>
<line x1="78.7" y1="377.5" x2="82.7" y2="377.5" stroke="#a6a6a6" stroke-width="1.3"/>
<line x1="80.7" y1="353.21" x2="82.7" y2="353.21" stroke="#a6a6a6" stroke-width="1.3"/>
<line x1="78.7" y1="342.75" x2="82.7" y2="342.75" stroke="#a6a6a6" stroke-width="1.3"/>
<line x1="80.7" y1="318.46" x2="82.7" y2="318.46" stroke="#a6a6a6" stroke-width="1.3"/>
<line x1="82.8" y1="516.5" x2="82.8" y2="520.5" stroke="#a6a6a6" stroke-width="1.3"/>
<line x1="101.05" y1="516.5" x2="101.05" y2="518.5" stroke="#a6a6a6" stroke-width="1.3"/>
<line x1="119.3" y1="516.5" x2="119.3" y2="520.5" stroke="#a6a6a6" stroke-width="1.3"/>
<line x1="137.55" y1="516.5" x2="137.55" y2="518.5" stroke="#a6a6a6" stroke-width="1.3"/>
<line x1="155.8" y1="516.5" x2="155.8" y2="520.5" stroke="#a6a6a6" stroke-width="1.3"/>
<line x1="174.05" y1="516.5" x2="174.05" y2="518.5" stroke="#a6a6a6" stroke-width="1.3"/>
<line x1="192.3" y1="516.5" x2="192.3" y2="520.5" stroke="#a6a6a6" stroke-width="1.3"/>
<line x1="210.55" y1="516.5" x2="210.55" y2="518.5" stroke="#a6a6a6" stroke-width="1.3"/>
<line x1="228.8" y1="516.5" x2="228.8" y2="520.5" stroke="#a6a6a6" stroke-width="1.3"/>
<line x1="247.05" y1="516.5" x2="247.05" y2="518.5" stroke="#a6a6a6" stroke-width="1.3"/>
<line x1="265.3" y1="516.5" x2="265.3" y2="520.5" stroke="#a6a6a6" stroke-width="1.3"/>
<line x1="283.55" y1="516.5" x2="283.55" y2="518.5" stroke="#a6a6a6" stroke-width="1.3"/>
<line x1="301.8" y1="516.5" x2="301.8" y2="520.5" stroke="#a6a6a6" stroke-width="1.3"/>
<line x1="320.05" y1="516.5" x2="320.05" y2="518.5" stroke="#a6a6a6" stroke-width="1.3"/>
<line x1="338.3" y1="516.5" x2="338.3" y2="520.5" stroke="#a6a6a6" stroke-width="1.3"/>
<text x="75.3" y="521.7" font-family='"Liberation Sans", sans-serif' font-size="17" font-weight="bold" text-anchor="end" fill="#000">1E-11</text>
<text x="75.3" y="486.95" font-family='"Liberation Sans", sans-serif' font-size="17" font-weight="bold" text-anchor="end" fill="#000">1E-10</text>
<text x="75.3" y="452.2" font-family='"Liberation Sans", sans-serif' font-size="17" font-weight="bold" text-anchor="end" fill="#000">1E-09</text>
<text x="75.3" y="417.45" font-family='"Liberation Sans", sans-serif' font-size="17" font-weight="bold" text-anchor="end" fill="#000">1E-08</text>
<text x="75.3" y="382.7" font-family='"Liberation Sans", sans-serif' font-size="17" font-weight="bold" text-anchor="end" fill="#000">1E-07</text>
<text x="75.3" y="347.95" font-family='"Liberation Sans", sans-serif' font-size="17" font-weight="bold" text-anchor="end" fill="#000">1E-06</text>
<text x="82.8" y="535.8" font-family='"Liberation Sans", sans-serif' font-size="17" font-weight="bold" text-anchor="middle" fill="#000">-40</text>
<text x="119.3" y="535.8" font-family='"Liberation Sans", sans-serif' font-size="17" font-weight="bold" text-anchor="middle" fill="#000">-30</text>
<text x="155.8" y="535.8" font-family='"Liberation Sans", sans-serif' font-size="17" font-weight="bold" text-anchor="middle" fill="#000">-20</text>
<text x="192.3" y="535.8" font-family='"Liberation Sans", sans-serif' font-size="17" font-weight="bold" text-anchor="middle" fill="#000">-10</text>
<text x="228.8" y="535.8" font-family='"Liberation Sans", sans-serif' font-size="17" font-weight="bold" text-anchor="middle" fill="#000">0</text>
<text x="265.3" y="535.8" font-family='"Liberation Sans", sans-serif' font-size="17" font-weight="bold" text-anchor="middle" fill="#000">10</text>
<text x="301.8" y="535.8" font-family='"Liberation Sans", sans-serif' font-size="17" font-weight="bold" text-anchor="middle" fill="#000">20</text>
<text x="338.3" y="535.8" font-family='"Liberation Sans", sans-serif' font-size="17" font-weight="bold" text-anchor="middle" fill="#000">30</text>
<path d="M82.14 497.48 L83.28 497.61 L84.41 497.81 L85.51 498.07 L86.59 498.36 L87.65 498.68 L88.68 498.99 L89.7 499.29 L90.69 499.56 L91.66 499.77 L92.61 499.92 L93.54 499.98 L94.44 499.94 L95.33 499.79 L96.19 499.56 L97.04 499.24 L97.87 498.86 L98.67 498.42 L99.46 497.92 L100.22 497.38 L100.97 496.79 L101.69 496.16 L102.4 495.49 L103.09 494.79 L103.76 494.05 L104.41 493.29 L105.04 492.5 L105.65 491.68 L106.25 490.85 L106.83 490.01 L107.39 489.15 L107.93 488.28 L108.45 487.41 L108.96 486.53 L109.46 485.64 L109.93 484.74 L110.4 483.84 L110.85 482.94 L111.28 482.02 L111.71 481.11 L112.12 480.19 L112.53 479.26 L112.92 478.33 L113.3 477.4 L113.68 476.46 L114.05 475.52 L114.41 474.57 L114.76 473.63 L115.11 472.68 L115.46 471.73 L115.8 470.78 L116.14 469.83 L116.47 468.87 L116.8 467.92 L117.14 466.96 L117.47 466.01 L117.8 465.06 L118.13 464.11 L118.46 463.15 L118.8 462.2 L119.14 461.26 L119.49 460.31 L119.83 459.37 L120.19 458.43 L120.55 457.49 L120.91 456.56 L121.29 455.63 L121.67 454.7 L122.06 453.78 L122.46 452.86 L122.87 451.95 L123.28 451.04 L123.7 450.13 L124.13 449.23 L124.57 448.33 L125.01 447.44 L125.46 446.55 L125.92 445.66 L126.39 444.78 L126.86 443.9 L127.34 443.03 L127.83 442.16 L128.32 441.29 L128.83 440.43 L129.33 439.57 L129.85 438.72 L130.37 437.87 L130.9 437.02 L131.43 436.18 L131.97 435.34 L132.52 434.51 L133.07 433.67 L133.63 432.85 L134.2 432.02 L134.77 431.2 L135.35 430.39 L135.93 429.58 L136.52 428.77 L137.12 427.96 L137.72 427.16 L138.33 426.37 L138.94 425.57 L139.56 424.78 L140.18 424 L140.81 423.22 L141.44 422.44 L142.08 421.66 L142.72 420.89 L143.37 420.13 L144.03 419.36 L144.68 418.6 L145.35 417.85 L146.02 417.1 L146.69 416.35 L147.37 415.6 L148.05 414.86 L148.73 414.12 L149.43 413.39 L150.12 412.66 L150.82 411.93 L151.52 411.21 L152.23 410.49 L152.94 409.77 L153.66 409.06 L154.38 408.35 L155.1 407.65 L155.82 406.95 L156.55 406.25 L157.29 405.55 L158.03 404.86 L158.77 404.18 L159.51 403.49 L160.26 402.81 L161.01 402.14 L161.76 401.46 L162.52 400.79 L163.28 400.13 L164.04 399.46 L164.8 398.8 L165.57 398.15 L166.34 397.5 L167.11 396.85 L167.89 396.2 L168.67 395.56 L169.45 394.92 L170.23 394.29 L171.01 393.65 L171.8 393.03 L172.59 392.4 L173.38 391.78 L174.17 391.16 L174.97 390.55 L175.76 389.93 L176.56 389.33 L177.36 388.72 L178.16 388.12 L178.97 387.52 L179.78 386.92 L180.58 386.33 L181.39 385.74 L182.21 385.15 L183.02 384.57 L183.84 383.98 L184.65 383.41 L185.47 382.83 L186.29 382.26 L187.12 381.69 L187.94 381.12 L188.77 380.55 L189.6 379.99 L190.43 379.43 L191.26 378.87 L192.09 378.32 L192.92 377.77 L193.76 377.22 L194.6 376.67 L195.44 376.13 L196.28 375.58 L197.12 375.04 L197.96 374.51 L198.81 373.97 L199.65 373.44 L200.5 372.9 L201.35 372.38 L202.2 371.85 L203.05 371.32 L203.91 370.8 L204.76 370.28 L205.62 369.76 L206.47 369.24 L207.33 368.73 L208.19 368.22 L209.05 367.71 L209.91 367.2 L210.78 366.69 L211.64 366.18 L212.51 365.68 L213.37 365.18 L214.24 364.68 L215.11 364.18 L215.98 363.68 L216.85 363.18 L217.72 362.69 L218.6 362.19 L219.47 361.7 L220.34 361.21 L221.22 360.72 L222.1 360.24 L222.97 359.75 L223.85 359.26 L224.73 358.78 L225.61 358.3 L226.49 357.82 L227.37 357.33 L228.25 356.86 L229.14 356.38 L230.02 355.9 L230.91 355.42 L231.79 354.95 L232.68 354.47 L233.56 354 L234.45 353.53 L235.34 353.05 L236.23 352.58 L237.11 352.11 L238 351.64 L238.89 351.17 L239.78 350.71 L240.67 350.24 L241.57 349.77 L242.46 349.3 L243.35 348.84 L244.24 348.37 L245.14 347.91 L246.03 347.45 L246.93 346.98 L247.82 346.52 L248.72 346.06 L249.61 345.6 L250.51 345.15 L251.41 344.69 L252.31 344.23 L253.2 343.78 L254.1 343.32 L255 342.87 L255.9 342.42 L256.81 341.97 L257.71 341.52 L258.61 341.07 L259.51 340.63 L260.42 340.18 L261.32 339.74 L262.23 339.3 L263.13 338.86 L264.04 338.42 L264.95 337.98 L265.86 337.55 L266.76 337.11 L267.67 336.68 L268.58 336.25 L269.5 335.82 L270.41 335.4 L271.32 334.97 L272.23 334.55 L273.15 334.13 L274.06 333.71 L274.98 333.29 L275.89 332.87 L276.81 332.46 L277.73 332.05 L278.65 331.64 L279.57 331.23 L280.49 330.83 L281.41 330.43 L282.33 330.03 L283.26 329.63 L284.18 329.23 L285.11 328.84 L286.03 328.45 L286.96 328.06 L287.89 327.68 L288.81 327.29 L289.74 326.91 L290.67 326.53 L291.61 326.16 L292.54 325.78 L293.47 325.41 L294.4 325.04 L295.34 324.68 L296.28 324.32 L297.21 323.96 L298.15 323.6 L299.09 323.25 L300.03 322.9 L300.97 322.55 L301.91 322.2 L302.86 321.86 L303.8 321.52 L304.75 321.18 L305.69 320.85 L306.64 320.52 L307.59 320.2 L308.54 319.87 L309.49 319.55 L310.44 319.23 L311.39 318.92 L312.34 318.61 L313.3 318.3 L314.25 318 L315.21 317.7 L316.17 317.4 L317.13 317.11 L318.09 316.82 L319.05 316.54 L320.01 316.25 L320.98 315.97 L321.94 315.7 L322.91 315.43 L323.88 315.16 L324.84 314.9 L325.81 314.64 L326.78 314.38 L327.76 314.13 L328.73 313.88 L329.7 313.64 L330.68 313.4 L331.66 313.16 L332.64 312.93 L333.62 312.7 L334.6 312.48 L335.58 312.26 L336.56 312.04 L337.55 311.83" fill="none" stroke="#000000" stroke-width="2.3" stroke-linejoin="round" stroke-linecap="round"/>
<path d="M89.77 499.54 L90.87 499.03 L91.95 498.57 L93 498.16 L94.03 497.81 L95.04 497.5 L96.02 497.23 L96.98 496.99 L97.92 496.79 L98.83 496.62 L99.72 496.46 L100.59 496.33 L101.44 496.19 L102.27 496.01 L103.07 495.77 L103.85 495.43 L104.61 494.97 L105.35 494.4 L106.06 493.75 L106.75 493.04 L107.43 492.3 L108.08 491.55 L108.7 490.77 L109.31 489.98 L109.9 489.17 L110.48 488.35 L111.03 487.52 L111.57 486.67 L112.09 485.81 L112.59 484.93 L113.08 484.05 L113.56 483.15 L114.02 482.25 L114.47 481.34 L114.91 480.42 L115.34 479.49 L115.75 478.56 L116.16 477.62 L116.56 476.68 L116.95 475.74 L117.33 474.79 L117.7 473.84 L118.07 472.89 L118.43 471.94 L118.79 470.99 L119.15 470.05 L119.5 469.1 L119.85 468.16 L120.19 467.22 L120.54 466.28 L120.88 465.35 L121.22 464.42 L121.56 463.49 L121.9 462.57 L122.24 461.64 L122.59 460.72 L122.93 459.8 L123.28 458.88 L123.62 457.96 L123.97 457.04 L124.33 456.12 L124.68 455.2 L125.04 454.29 L125.41 453.37 L125.77 452.45 L126.15 451.53 L126.53 450.62 L126.91 449.7 L127.3 448.78 L127.7 447.86 L128.11 446.93 L128.52 446.01 L128.94 445.09 L129.37 444.16 L129.81 443.23 L130.26 442.3 L130.71 441.38 L131.18 440.45 L131.65 439.53 L132.13 438.62 L132.63 437.71 L133.13 436.81 L133.64 435.91 L134.16 435.03 L134.69 434.16 L135.23 433.29 L135.78 432.44 L136.34 431.61 L136.9 430.78 L137.48 429.98 L138.07 429.19 L138.67 428.42 L139.28 427.67 L139.9 426.94 L140.53 426.22 L141.17 425.53 L141.82 424.84 L142.47 424.17 L143.14 423.51 L143.81 422.85 L144.49 422.2 L145.18 421.56 L145.88 420.92 L146.58 420.27 L147.29 419.63 L148.01 418.98 L148.73 418.32 L149.45 417.66 L150.18 416.99 L150.92 416.31 L151.66 415.62 L152.41 414.93 L153.16 414.24 L153.92 413.54 L154.68 412.85 L155.45 412.16 L156.22 411.47 L157 410.79 L157.79 410.11 L158.58 409.44 L159.38 408.78 L160.18 408.13 L160.99 407.5 L161.8 406.87 L162.62 406.27 L163.45 405.68 L164.29 405.11 L165.13 404.56 L165.97 404.03 L166.83 403.52 L167.69 403.02 L168.55 402.54 L169.42 402.08 L170.29 401.62 L171.17 401.19 L172.05 400.76 L172.94 400.35 L173.83 399.95 L174.73 399.55 L175.62 399.17 L176.53 398.79 L177.43 398.42 L178.34 398.06 L179.25 397.7 L180.16 397.34 L181.07 396.99 L181.99 396.64 L182.91 396.29 L183.83 395.94 L184.75 395.59 L185.67 395.23 L186.59 394.88 L187.51 394.52 L188.43 394.15 L189.36 393.79 L190.28 393.41 L191.2 393.03 L192.12 392.63 L193.04 392.23 L193.96 391.83 L194.88 391.41 L195.79 390.99 L196.71 390.56 L197.62 390.12 L198.54 389.68 L199.45 389.23 L200.37 388.78 L201.28 388.32 L202.19 387.86 L203.1 387.39 L204.01 386.92 L204.92 386.45 L205.83 385.98 L206.74 385.5 L207.65 385.02 L208.56 384.54 L209.47 384.05 L210.37 383.57 L211.28 383.09 L212.18 382.6 L213.09 382.12 L213.99 381.64 L214.9 381.16 L215.8 380.68 L216.7 380.2 L217.61 379.73 L218.51 379.26 L219.41 378.79 L220.31 378.33 L221.22 377.86 L222.12 377.41 L223.02 376.95 L223.92 376.5 L224.82 376.06 L225.72 375.61 L226.62 375.17 L227.52 374.74 L228.42 374.3 L229.32 373.87 L230.21 373.44 L231.11 373.01 L232.01 372.58 L232.91 372.16 L233.81 371.74 L234.71 371.32 L235.6 370.9 L236.5 370.48 L237.4 370.06 L238.3 369.65 L239.2 369.23 L240.09 368.82 L240.99 368.4 L241.89 367.99 L242.79 367.58 L243.69 367.16 L244.58 366.75 L245.48 366.34 L246.38 365.92 L247.28 365.51 L248.18 365.09 L249.08 364.68 L249.98 364.26 L250.87 363.85 L251.77 363.43 L252.67 363.01 L253.57 362.59 L254.47 362.16 L255.37 361.74 L256.27 361.31 L257.17 360.89 L258.08 360.46 L258.98 360.03 L259.88 359.6 L260.78 359.17 L261.68 358.73 L262.59 358.3 L263.49 357.87 L264.39 357.43 L265.3 357 L266.2 356.56 L267.1 356.12 L268.01 355.69 L268.91 355.25 L269.82 354.81 L270.73 354.37 L271.63 353.94 L272.54 353.5 L273.44 353.06 L274.35 352.62 L275.26 352.19 L276.17 351.75 L277.08 351.31 L277.99 350.87 L278.9 350.44 L279.81 350 L280.72 349.57 L281.63 349.13 L282.54 348.7 L283.45 348.27 L284.37 347.83 L285.28 347.4 L286.19 346.97 L287.11 346.54 L288.02 346.12 L288.94 345.69 L289.85 345.26 L290.77 344.84 L291.69 344.42 L292.6 344 L293.52 343.58 L294.44 343.16 L295.36 342.74 L296.28 342.33 L297.2 341.92 L298.12 341.51 L299.05 341.1 L299.97 340.69 L300.89 340.29 L301.82 339.88 L302.74 339.48 L303.67 339.09 L304.59 338.69 L305.52 338.3 L306.45 337.91 L307.38 337.52 L308.3 337.14 L309.23 336.76 L310.16 336.38 L311.1 336 L312.03 335.63 L312.96 335.26 L313.89 334.89 L314.83 334.53 L315.76 334.17 L316.7 333.81 L317.64 333.46 L318.57 333.11 L319.51 332.76 L320.45 332.42 L321.39 332.08 L322.33 331.74 L323.27 331.41 L324.22 331.08 L325.16 330.76 L326.11 330.44 L327.05 330.13 L328 329.82 L328.94 329.51 L329.89 329.21 L330.84 328.91 L331.79 328.62 L332.74 328.33 L333.69 328.04 L334.65 327.76 L335.6 327.49 L336.55 327.22 L337.51 326.95" fill="none" stroke="#fa0a12" stroke-width="2.3" stroke-linejoin="round" stroke-linecap="round"/>
<path d="M82.4 498.45 L83.52 498.8 L84.62 499.06 L85.68 499.24 L86.72 499.34 L87.74 499.37 L88.73 499.32 L89.69 499.2 L90.62 499.01 L91.54 498.77 L92.42 498.46 L93.29 498.09 L94.12 497.68 L94.94 497.21 L95.73 496.69 L96.5 496.14 L97.25 495.54 L97.97 494.9 L98.68 494.24 L99.36 493.54 L100.02 492.81 L100.67 492.06 L101.29 491.29 L101.89 490.51 L102.48 489.7 L103.04 488.88 L103.6 488.05 L104.13 487.2 L104.66 486.34 L105.17 485.47 L105.67 484.58 L106.16 483.69 L106.64 482.79 L107.11 481.88 L107.57 480.96 L108.02 480.04 L108.46 479.11 L108.88 478.18 L109.3 477.25 L109.71 476.31 L110.11 475.37 L110.51 474.44 L110.9 473.5 L111.3 472.57 L111.69 471.63 L112.08 470.71 L112.48 469.79 L112.88 468.87 L113.28 467.96 L113.69 467.05 L114.1 466.15 L114.51 465.25 L114.93 464.36 L115.36 463.47 L115.79 462.58 L116.22 461.7 L116.66 460.81 L117.11 459.94 L117.57 459.06 L118.03 458.18 L118.5 457.31 L118.97 456.44 L119.45 455.57 L119.93 454.7 L120.42 453.82 L120.91 452.95 L121.4 452.08 L121.89 451.21 L122.38 450.34 L122.88 449.46 L123.37 448.59 L123.86 447.71 L124.34 446.83 L124.83 445.94 L125.31 445.06 L125.79 444.17 L126.27 443.28 L126.75 442.39 L127.23 441.5 L127.71 440.61 L128.18 439.72 L128.66 438.84 L129.14 437.95 L129.63 437.07 L130.11 436.19 L130.6 435.31 L131.1 434.44 L131.59 433.57 L132.1 432.71 L132.6 431.85 L133.12 431 L133.64 430.16 L134.17 429.32 L134.7 428.49 L135.25 427.67 L135.8 426.86 L136.36 426.05 L136.94 425.26 L137.52 424.48 L138.12 423.71 L138.74 422.95 L139.38 422.2 L140.03 421.47 L140.7 420.75 L141.39 420.04 L142.1 419.35 L142.82 418.66 L143.57 417.99 L144.32 417.34 L145.1 416.69 L145.88 416.06 L146.68 415.44 L147.49 414.82 L148.31 414.22 L149.13 413.63 L149.97 413.05 L150.81 412.48 L151.66 411.92 L152.52 411.37 L153.38 410.83 L154.25 410.29 L155.12 409.77 L156 409.26 L156.89 408.75 L157.77 408.26 L158.67 407.77 L159.56 407.29 L160.46 406.82 L161.36 406.36 L162.26 405.91 L163.16 405.46 L164.07 405.03 L164.97 404.6 L165.88 404.18 L166.78 403.76 L167.69 403.36 L168.6 402.96 L169.51 402.56 L170.42 402.17 L171.33 401.79 L172.24 401.41 L173.15 401.04 L174.06 400.66 L174.97 400.3 L175.89 399.93 L176.8 399.57 L177.71 399.21 L178.63 398.85 L179.54 398.49 L180.46 398.13 L181.37 397.77 L182.29 397.41 L183.2 397.05 L184.12 396.69 L185.04 396.33 L185.95 395.96 L186.87 395.59 L187.79 395.22 L188.71 394.85 L189.62 394.47 L190.54 394.09 L191.46 393.7 L192.38 393.3 L193.3 392.9 L194.22 392.5 L195.14 392.09 L196.05 391.68 L196.97 391.26 L197.89 390.84 L198.81 390.42 L199.73 389.99 L200.65 389.56 L201.57 389.12 L202.49 388.68 L203.41 388.24 L204.32 387.8 L205.24 387.36 L206.16 386.91 L207.08 386.46 L208 386.01 L208.92 385.56 L209.83 385.11 L210.75 384.66 L211.67 384.2 L212.58 383.75 L213.5 383.29 L214.42 382.84 L215.33 382.39 L216.25 381.94 L217.16 381.48 L218.08 381.03 L218.99 380.58 L219.91 380.14 L220.82 379.69 L221.73 379.25 L222.65 378.8 L223.56 378.36 L224.47 377.92 L225.38 377.49 L226.29 377.05 L227.2 376.62 L228.11 376.18 L229.02 375.75 L229.93 375.32 L230.84 374.89 L231.75 374.46 L232.66 374.03 L233.57 373.61 L234.48 373.18 L235.39 372.76 L236.3 372.34 L237.2 371.92 L238.11 371.5 L239.02 371.08 L239.92 370.66 L240.83 370.24 L241.74 369.82 L242.64 369.4 L243.55 368.99 L244.46 368.57 L245.36 368.16 L246.27 367.74 L247.18 367.33 L248.08 366.92 L248.99 366.5 L249.89 366.09 L250.8 365.68 L251.7 365.27 L252.61 364.85 L253.52 364.44 L254.42 364.03 L255.33 363.62 L256.23 363.21 L257.14 362.8 L258.05 362.39 L258.95 361.98 L259.86 361.57 L260.76 361.15 L261.67 360.74 L262.58 360.33 L263.48 359.92 L264.39 359.51 L265.3 359.1 L266.2 358.68 L267.11 358.27 L268.02 357.86 L268.93 357.44 L269.83 357.03 L270.74 356.61 L271.65 356.19 L272.56 355.78 L273.47 355.36 L274.38 354.94 L275.28 354.52 L276.19 354.1 L277.1 353.68 L278.01 353.26 L278.93 352.84 L279.84 352.41 L280.75 351.99 L281.66 351.56 L282.57 351.14 L283.48 350.71 L284.4 350.28 L285.31 349.85 L286.22 349.41 L287.14 348.98 L288.05 348.55 L288.97 348.11 L289.88 347.68 L290.8 347.24 L291.72 346.81 L292.63 346.37 L293.55 345.94 L294.47 345.5 L295.39 345.07 L296.31 344.63 L297.23 344.2 L298.15 343.77 L299.07 343.34 L299.99 342.91 L300.91 342.49 L301.84 342.06 L302.76 341.64 L303.68 341.22 L304.61 340.8 L305.54 340.38 L306.46 339.97 L307.39 339.56 L308.32 339.15 L309.25 338.75 L310.18 338.35 L311.11 337.95 L312.04 337.56 L312.97 337.17 L313.9 336.78 L314.83 336.4 L315.77 336.03 L316.7 335.66 L317.64 335.29 L318.58 334.93 L319.51 334.57 L320.45 334.22 L321.39 333.87 L322.33 333.53 L323.27 333.2 L324.22 332.87 L325.16 332.55 L326.1 332.24 L327.05 331.93 L327.99 331.63 L328.94 331.33 L329.89 331.04 L330.84 330.76 L331.79 330.49 L332.74 330.23 L333.69 329.97 L334.65 329.72 L335.6 329.48 L336.56 329.25 L337.51 329.02" fill="none" stroke="#0c0ce0" stroke-width="2.3" stroke-linejoin="round" stroke-linecap="round"/>
<path d="M82.49 502.63 L83.55 502.56 L84.59 502.42 L85.59 502.22 L86.57 501.96 L87.51 501.64 L88.43 501.27 L89.31 500.85 L90.17 500.37 L91 499.86 L91.8 499.29 L92.58 498.69 L93.33 498.05 L94.05 497.37 L94.74 496.66 L95.41 495.92 L96.06 495.15 L96.68 494.35 L97.28 493.54 L97.85 492.7 L98.4 491.85 L98.92 490.98 L99.42 490.1 L99.9 489.21 L100.36 488.32 L100.8 487.41 L101.22 486.5 L101.63 485.59 L102.02 484.67 L102.39 483.74 L102.75 482.81 L103.11 481.88 L103.45 480.94 L103.79 480.01 L104.12 479.07 L104.44 478.12 L104.77 477.18 L105.09 476.24 L105.41 475.3 L105.73 474.36 L106.06 473.42 L106.39 472.48 L106.73 471.55 L107.08 470.62 L107.43 469.69 L107.8 468.77 L108.18 467.85 L108.57 466.94 L108.97 466.04 L109.38 465.13 L109.8 464.24 L110.24 463.34 L110.68 462.45 L111.13 461.57 L111.59 460.68 L112.05 459.8 L112.53 458.93 L113.01 458.05 L113.49 457.18 L113.98 456.31 L114.47 455.44 L114.97 454.57 L115.47 453.71 L115.98 452.84 L116.48 451.98 L116.99 451.12 L117.5 450.25 L118.01 449.39 L118.52 448.53 L119.03 447.66 L119.53 446.8 L120.04 445.94 L120.55 445.08 L121.07 444.22 L121.58 443.36 L122.11 442.51 L122.64 441.66 L123.18 440.82 L123.74 439.99 L124.3 439.17 L124.88 438.35 L125.47 437.54 L126.08 436.75 L126.71 435.96 L127.35 435.19 L128.01 434.43 L128.7 433.69 L129.4 432.96 L130.11 432.25 L130.84 431.55 L131.58 430.87 L132.34 430.21 L133.1 429.57 L133.87 428.95 L134.65 428.35 L135.43 427.77 L136.23 427.21 L137.02 426.66 L137.83 426.13 L138.63 425.6 L139.45 425.08 L140.27 424.57 L141.09 424.06 L141.93 423.56 L142.76 423.05 L143.6 422.54 L144.45 422.03 L145.3 421.51 L146.15 420.99 L147.01 420.46 L147.87 419.93 L148.73 419.39 L149.6 418.86 L150.47 418.32 L151.35 417.78 L152.23 417.25 L153.11 416.71 L153.99 416.18 L154.87 415.64 L155.76 415.11 L156.65 414.59 L157.54 414.06 L158.44 413.54 L159.33 413.03 L160.23 412.53 L161.12 412.03 L162.02 411.53 L162.92 411.05 L163.82 410.57 L164.72 410.11 L165.62 409.65 L166.52 409.2 L167.42 408.76 L168.32 408.33 L169.22 407.9 L170.12 407.48 L171.02 407.07 L171.93 406.67 L172.83 406.26 L173.73 405.87 L174.63 405.48 L175.54 405.09 L176.44 404.7 L177.34 404.32 L178.24 403.94 L179.15 403.56 L180.05 403.18 L180.95 402.81 L181.86 402.43 L182.76 402.06 L183.67 401.68 L184.57 401.3 L185.47 400.92 L186.38 400.54 L187.28 400.16 L188.18 399.77 L189.09 399.38 L189.99 398.98 L190.9 398.58 L191.8 398.18 L192.7 397.77 L193.61 397.35 L194.51 396.93 L195.42 396.51 L196.32 396.08 L197.22 395.64 L198.13 395.2 L199.03 394.76 L199.93 394.32 L200.84 393.87 L201.74 393.41 L202.64 392.96 L203.55 392.5 L204.45 392.04 L205.35 391.58 L206.25 391.11 L207.15 390.64 L208.06 390.18 L208.96 389.7 L209.86 389.23 L210.76 388.76 L211.66 388.29 L212.56 387.81 L213.46 387.34 L214.36 386.87 L215.26 386.39 L216.16 385.92 L217.06 385.45 L217.96 384.98 L218.86 384.51 L219.75 384.04 L220.65 383.57 L221.55 383.1 L222.45 382.64 L223.34 382.17 L224.24 381.71 L225.13 381.25 L226.03 380.79 L226.92 380.34 L227.82 379.88 L228.71 379.42 L229.61 378.97 L230.5 378.52 L231.4 378.07 L232.29 377.62 L233.18 377.17 L234.08 376.72 L234.97 376.27 L235.86 375.83 L236.76 375.38 L237.65 374.94 L238.54 374.49 L239.44 374.05 L240.33 373.61 L241.22 373.17 L242.11 372.73 L243.01 372.29 L243.9 371.85 L244.79 371.41 L245.68 370.97 L246.58 370.53 L247.47 370.1 L248.36 369.66 L249.26 369.22 L250.15 368.79 L251.04 368.35 L251.93 367.92 L252.83 367.48 L253.72 367.05 L254.62 366.61 L255.51 366.18 L256.4 365.74 L257.3 365.31 L258.19 364.87 L259.09 364.44 L259.98 364.01 L260.88 363.57 L261.77 363.14 L262.67 362.7 L263.56 362.27 L264.46 361.83 L265.36 361.4 L266.25 360.96 L267.15 360.53 L268.05 360.09 L268.95 359.65 L269.85 359.22 L270.75 358.78 L271.64 358.34 L272.54 357.9 L273.45 357.46 L274.35 357.02 L275.25 356.58 L276.15 356.14 L277.05 355.7 L277.95 355.26 L278.86 354.81 L279.76 354.37 L280.67 353.92 L281.57 353.48 L282.48 353.03 L283.38 352.58 L284.29 352.14 L285.2 351.69 L286.11 351.24 L287.02 350.79 L287.93 350.35 L288.84 349.9 L289.75 349.46 L290.66 349.01 L291.57 348.57 L292.49 348.13 L293.4 347.69 L294.32 347.25 L295.23 346.81 L296.15 346.37 L297.07 345.94 L297.98 345.51 L298.9 345.08 L299.82 344.65 L300.74 344.23 L301.67 343.81 L302.59 343.39 L303.51 342.98 L304.44 342.56 L305.36 342.16 L306.29 341.75 L307.22 341.35 L308.15 340.96 L309.08 340.57 L310.01 340.18 L310.94 339.79 L311.87 339.42 L312.81 339.04 L313.74 338.67 L314.68 338.31 L315.62 337.95 L316.55 337.6 L317.49 337.25 L318.43 336.91 L319.38 336.58 L320.32 336.25 L321.26 335.93 L322.21 335.61 L323.16 335.3 L324.1 335 L325.05 334.71 L326 334.42 L326.96 334.14 L327.91 333.86 L328.86 333.6 L329.82 333.34 L330.78 333.09 L331.74 332.85 L332.7 332.62 L333.66 332.39 L334.62 332.18 L335.58 331.97 L336.55 331.77 L337.52 331.58" fill="none" stroke="#22ee22" stroke-width="2.3" stroke-linejoin="round" stroke-linecap="round"/>
<rect x="187" y="433.5" width="149.6" height="76.2" fill="#fff" stroke="#b8b8b8" stroke-width="1"/>
<line x1="188.9" y1="444.5" x2="223.4" y2="444.5" stroke="#000000" stroke-width="2.4"/>
<text x="228.1" y="449.5" font-family='"Liberation Sans", sans-serif' font-size="14.8" font-weight="bold" text-anchor="start" fill="#111">before</text>
<line x1="188.9" y1="462.8" x2="223.4" y2="462.8" stroke="#fa0a12" stroke-width="2.4"/>
<text x="228.1" y="467.8" font-family='"Liberation Sans", sans-serif' font-size="14.8" font-weight="bold" text-anchor="start" fill="#111">water</text>
<line x1="188.9" y1="481.1" x2="223.4" y2="481.1" stroke="#0c0ce0" stroke-width="2.4"/>
<text x="228.1" y="486.1" font-family='"Liberation Sans", sans-serif' font-size="14.8" font-weight="bold" text-anchor="start" fill="#111">pump1h</text>
<line x1="188.9" y1="499.6" x2="223.4" y2="499.6" stroke="#22ee22" stroke-width="2.4"/>
<text x="228.1" y="504.6" font-family='"Liberation Sans", sans-serif' font-size="14.8" font-weight="bold" text-anchor="start" fill="#111">after annealing</text>
<text x="51.8" y="318.5" font-family='"Liberation Serif", serif' font-size="22.5" font-weight="normal" text-anchor="start" fill="#000">(c)</text>
<g transform="translate(15.7 439.1) rotate(-90)">
<text x="0" y="0" font-family='"Liberation Sans", sans-serif' font-size="21.5" fill="#000">I<tspan font-size="12.5" dy="7">DS</tspan><tspan dy="-7">(A)</tspan></text>
</g>
<text x="184.9" y="562.5" font-family='"Liberation Sans", sans-serif' font-size="21" fill="#000">V<tspan font-size="11.5" dy="7.2">G</tspan><tspan dy="-7.2">(V)</tspan></text>
<line x1="456.4" y1="311.5" x2="456.4" y2="517" stroke="#a6a6a6" stroke-width="1.6"/>
<line x1="455.7" y1="516.5" x2="713.61" y2="516.5" stroke="#a6a6a6" stroke-width="1.6"/>
<line x1="452.4" y1="516.5" x2="456.4" y2="516.5" stroke="#a6a6a6" stroke-width="1.3"/>
<line x1="454.4" y1="507.02" x2="456.4" y2="507.02" stroke="#a6a6a6" stroke-width="1"/>
<line x1="454.4" y1="501.47" x2="456.4" y2="501.47" stroke="#a6a6a6" stroke-width="1"/>
<line x1="454.4" y1="497.54" x2="456.4" y2="497.54" stroke="#a6a6a6" stroke-width="1"/>
<line x1="454.4" y1="494.48" x2="456.4" y2="494.48" stroke="#a6a6a6" stroke-width="1"/>
<line x1="454.4" y1="491.99" x2="456.4" y2="491.99" stroke="#a6a6a6" stroke-width="1"/>
<line x1="454.4" y1="489.88" x2="456.4" y2="489.88" stroke="#a6a6a6" stroke-width="1"/>
<line x1="454.4" y1="488.05" x2="456.4" y2="488.05" stroke="#a6a6a6" stroke-width="1"/>
<line x1="454.4" y1="486.44" x2="456.4" y2="486.44" stroke="#a6a6a6" stroke-width="1"/>
<line x1="452.4" y1="485" x2="456.4" y2="485" stroke="#a6a6a6" stroke-width="1.3"/>
<line x1="454.4" y1="475.52" x2="456.4" y2="475.52" stroke="#a6a6a6" stroke-width="1"/>
<line x1="454.4" y1="469.97" x2="456.4" y2="469.97" stroke="#a6a6a6" stroke-width="1"/>
<line x1="454.4" y1="466.04" x2="456.4" y2="466.04" stroke="#a6a6a6" stroke-width="1"/>
<line x1="454.4" y1="462.98" x2="456.4" y2="462.98" stroke="#a6a6a6" stroke-width="1"/>
<line x1="454.4" y1="460.49" x2="456.4" y2="460.49" stroke="#a6a6a6" stroke-width="1"/>
<line x1="454.4" y1="458.38" x2="456.4" y2="458.38" stroke="#a6a6a6" stroke-width="1"/>
<line x1="454.4" y1="456.55" x2="456.4" y2="456.55" stroke="#a6a6a6" stroke-width="1"/>
<line x1="454.4" y1="454.94" x2="456.4" y2="454.94" stroke="#a6a6a6" stroke-width="1"/>
<line x1="452.4" y1="453.5" x2="456.4" y2="453.5" stroke="#a6a6a6" stroke-width="1.3"/>
<line x1="454.4" y1="444.02" x2="456.4" y2="444.02" stroke="#a6a6a6" stroke-width="1"/>
<line x1="454.4" y1="438.47" x2="456.4" y2="438.47" stroke="#a6a6a6" stroke-width="1"/>
<line x1="454.4" y1="434.54" x2="456.4" y2="434.54" stroke="#a6a6a6" stroke-width="1"/>
<line x1="454.4" y1="431.48" x2="456.4" y2="431.48" stroke="#a6a6a6" stroke-width="1"/>
<line x1="454.4" y1="428.99" x2="456.4" y2="428.99" stroke="#a6a6a6" stroke-width="1"/>
<line x1="454.4" y1="426.88" x2="456.4" y2="426.88" stroke="#a6a6a6" stroke-width="1"/>
<line x1="454.4" y1="425.05" x2="456.4" y2="425.05" stroke="#a6a6a6" stroke-width="1"/>
<line x1="454.4" y1="423.44" x2="456.4" y2="423.44" stroke="#a6a6a6" stroke-width="1"/>
<line x1="452.4" y1="422" x2="456.4" y2="422" stroke="#a6a6a6" stroke-width="1.3"/>
<line x1="454.4" y1="412.52" x2="456.4" y2="412.52" stroke="#a6a6a6" stroke-width="1"/>
<line x1="454.4" y1="406.97" x2="456.4" y2="406.97" stroke="#a6a6a6" stroke-width="1"/>
<line x1="454.4" y1="403.04" x2="456.4" y2="403.04" stroke="#a6a6a6" stroke-width="1"/>
<line x1="454.4" y1="399.98" x2="456.4" y2="399.98" stroke="#a6a6a6" stroke-width="1"/>
<line x1="454.4" y1="397.49" x2="456.4" y2="397.49" stroke="#a6a6a6" stroke-width="1"/>
<line x1="454.4" y1="395.38" x2="456.4" y2="395.38" stroke="#a6a6a6" stroke-width="1"/>
<line x1="454.4" y1="393.55" x2="456.4" y2="393.55" stroke="#a6a6a6" stroke-width="1"/>
<line x1="454.4" y1="391.94" x2="456.4" y2="391.94" stroke="#a6a6a6" stroke-width="1"/>
<line x1="452.4" y1="390.5" x2="456.4" y2="390.5" stroke="#a6a6a6" stroke-width="1.3"/>
<line x1="454.4" y1="381.02" x2="456.4" y2="381.02" stroke="#a6a6a6" stroke-width="1"/>
<line x1="454.4" y1="375.47" x2="456.4" y2="375.47" stroke="#a6a6a6" stroke-width="1"/>
<line x1="454.4" y1="371.54" x2="456.4" y2="371.54" stroke="#a6a6a6" stroke-width="1"/>
<line x1="454.4" y1="368.48" x2="456.4" y2="368.48" stroke="#a6a6a6" stroke-width="1"/>
<line x1="454.4" y1="365.99" x2="456.4" y2="365.99" stroke="#a6a6a6" stroke-width="1"/>
<line x1="454.4" y1="363.88" x2="456.4" y2="363.88" stroke="#a6a6a6" stroke-width="1"/>
<line x1="454.4" y1="362.05" x2="456.4" y2="362.05" stroke="#a6a6a6" stroke-width="1"/>
<line x1="454.4" y1="360.44" x2="456.4" y2="360.44" stroke="#a6a6a6" stroke-width="1"/>
<line x1="452.4" y1="359" x2="456.4" y2="359" stroke="#a6a6a6" stroke-width="1.3"/>
<line x1="454.4" y1="349.52" x2="456.4" y2="349.52" stroke="#a6a6a6" stroke-width="1"/>
<line x1="454.4" y1="343.97" x2="456.4" y2="343.97" stroke="#a6a6a6" stroke-width="1"/>
<line x1="454.4" y1="340.04" x2="456.4" y2="340.04" stroke="#a6a6a6" stroke-width="1"/>
<line x1="454.4" y1="336.98" x2="456.4" y2="336.98" stroke="#a6a6a6" stroke-width="1"/>
<line x1="454.4" y1="334.49" x2="456.4" y2="334.49" stroke="#a6a6a6" stroke-width="1"/>
<line x1="454.4" y1="332.38" x2="456.4" y2="332.38" stroke="#a6a6a6" stroke-width="1"/>
<line x1="454.4" y1="330.55" x2="456.4" y2="330.55" stroke="#a6a6a6" stroke-width="1"/>
<line x1="454.4" y1="328.94" x2="456.4" y2="328.94" stroke="#a6a6a6" stroke-width="1"/>
<line x1="452.4" y1="327.5" x2="456.4" y2="327.5" stroke="#a6a6a6" stroke-width="1.3"/>
<line x1="454.4" y1="318.02" x2="456.4" y2="318.02" stroke="#a6a6a6" stroke-width="1"/>
<line x1="454.4" y1="312.47" x2="456.4" y2="312.47" stroke="#a6a6a6" stroke-width="1"/>
<line x1="456.5" y1="516.5" x2="456.5" y2="520.5" stroke="#a6a6a6" stroke-width="1.3"/>
<line x1="474.81" y1="516.5" x2="474.81" y2="518.5" stroke="#a6a6a6" stroke-width="1.3"/>
<line x1="493.13" y1="516.5" x2="493.13" y2="520.5" stroke="#a6a6a6" stroke-width="1.3"/>
<line x1="511.44" y1="516.5" x2="511.44" y2="518.5" stroke="#a6a6a6" stroke-width="1.3"/>
<line x1="529.76" y1="516.5" x2="529.76" y2="520.5" stroke="#a6a6a6" stroke-width="1.3"/>
<line x1="548.08" y1="516.5" x2="548.08" y2="518.5" stroke="#a6a6a6" stroke-width="1.3"/>
<line x1="566.39" y1="516.5" x2="566.39" y2="520.5" stroke="#a6a6a6" stroke-width="1.3"/>
<line x1="584.7" y1="516.5" x2="584.7" y2="518.5" stroke="#a6a6a6" stroke-width="1.3"/>
<line x1="603.02" y1="516.5" x2="603.02" y2="520.5" stroke="#a6a6a6" stroke-width="1.3"/>
<line x1="621.34" y1="516.5" x2="621.34" y2="518.5" stroke="#a6a6a6" stroke-width="1.3"/>
<line x1="639.65" y1="516.5" x2="639.65" y2="520.5" stroke="#a6a6a6" stroke-width="1.3"/>
<line x1="657.97" y1="516.5" x2="657.97" y2="518.5" stroke="#a6a6a6" stroke-width="1.3"/>
<line x1="676.28" y1="516.5" x2="676.28" y2="520.5" stroke="#a6a6a6" stroke-width="1.3"/>
<line x1="694.6" y1="516.5" x2="694.6" y2="518.5" stroke="#a6a6a6" stroke-width="1.3"/>
<line x1="712.91" y1="516.5" x2="712.91" y2="520.5" stroke="#a6a6a6" stroke-width="1.3"/>
<text x="448.8" y="521.7" font-family='"Liberation Sans", sans-serif' font-size="17" font-weight="bold" text-anchor="end" fill="#000">1E-12</text>
<text x="448.8" y="490.2" font-family='"Liberation Sans", sans-serif' font-size="17" font-weight="bold" text-anchor="end" fill="#000">1E-11</text>
<text x="448.8" y="458.7" font-family='"Liberation Sans", sans-serif' font-size="17" font-weight="bold" text-anchor="end" fill="#000">1E-10</text>
<text x="448.8" y="427.2" font-family='"Liberation Sans", sans-serif' font-size="17" font-weight="bold" text-anchor="end" fill="#000">1E-09</text>
<text x="448.8" y="395.7" font-family='"Liberation Sans", sans-serif' font-size="17" font-weight="bold" text-anchor="end" fill="#000">1E-08</text>
<text x="448.8" y="364.2" font-family='"Liberation Sans", sans-serif' font-size="17" font-weight="bold" text-anchor="end" fill="#000">1E-07</text>
<text x="448.8" y="332.7" font-family='"Liberation Sans", sans-serif' font-size="17" font-weight="bold" text-anchor="end" fill="#000">1E-06</text>
<text x="456.5" y="535.8" font-family='"Liberation Sans", sans-serif' font-size="17" font-weight="bold" text-anchor="middle" fill="#000">-40</text>
<text x="493.13" y="535.8" font-family='"Liberation Sans", sans-serif' font-size="17" font-weight="bold" text-anchor="middle" fill="#000">-30</text>
<text x="529.76" y="535.8" font-family='"Liberation Sans", sans-serif' font-size="17" font-weight="bold" text-anchor="middle" fill="#000">-20</text>
<text x="566.39" y="535.8" font-family='"Liberation Sans", sans-serif' font-size="17" font-weight="bold" text-anchor="middle" fill="#000">-10</text>
<text x="603.02" y="535.8" font-family='"Liberation Sans", sans-serif' font-size="17" font-weight="bold" text-anchor="middle" fill="#000">0</text>
<text x="639.65" y="535.8" font-family='"Liberation Sans", sans-serif' font-size="17" font-weight="bold" text-anchor="middle" fill="#000">10</text>
<text x="676.28" y="535.8" font-family='"Liberation Sans", sans-serif' font-size="17" font-weight="bold" text-anchor="middle" fill="#000">20</text>
<text x="712.91" y="535.8" font-family='"Liberation Sans", sans-serif' font-size="17" font-weight="bold" text-anchor="middle" fill="#000">30</text>
<path d="M478.72 506.35 L478.81 505.32 L478.89 504.29 L478.99 503.26 L479.09 502.24 L479.19 501.21 L479.29 500.2 L479.41 499.18 L479.52 498.16 L479.64 497.15 L479.76 496.14 L479.89 495.13 L480.02 494.12 L480.16 493.12 L480.3 492.11 L480.44 491.11 L480.59 490.11 L480.74 489.12 L480.89 488.12 L481.05 487.13 L481.21 486.13 L481.37 485.14 L481.54 484.15 L481.71 483.17 L481.88 482.18 L482.06 481.19 L482.24 480.21 L482.42 479.23 L482.61 478.25 L482.8 477.27 L482.99 476.29 L483.19 475.31 L483.39 474.34 L483.59 473.36 L483.79 472.39 L483.99 471.42 L484.2 470.45 L484.41 469.48 L484.63 468.51 L484.84 467.54 L485.06 466.57 L485.28 465.6 L485.5 464.63 L485.72 463.67 L485.95 462.7 L486.18 461.74 L486.41 460.77 L486.64 459.81 L486.87 458.84 L487.11 457.88 L487.34 456.92 L487.58 455.95 L487.82 454.99 L488.06 454.03 L488.31 453.07 L488.55 452.11 L488.8 451.14 L489.04 450.18 L489.29 449.22 L489.54 448.26 L489.79 447.3 L490.04 446.33 L490.29 445.37 L490.54 444.41 L490.8 443.45 L491.05 442.48 L491.31 441.52 L491.56 440.55 L491.82 439.59 L492.07 438.63 L492.33 437.66 L492.59 436.69 L492.85 435.73 L493.11 434.76 L493.36 433.79 L493.62 432.82 L493.88 431.85 L494.14 430.88 L494.4 429.91 L494.65 428.94 L494.91 427.96 L495.17 426.99 L495.43 426.01 L495.69 425.04 L495.94 424.06 L496.2 423.08 L496.45 422.1 L496.71 421.12 L496.96 420.13 L497.22 419.15 L497.47 418.16 L497.73 417.18 L497.98 416.19 L498.23 415.2 L498.49 414.21 L498.75 413.23 L499 412.24 L499.26 411.25 L499.52 410.27 L499.78 409.28 L500.05 408.3 L500.31 407.32 L500.58 406.34 L500.85 405.36 L501.13 404.38 L501.41 403.4 L501.69 402.43 L501.97 401.46 L502.26 400.49 L502.56 399.53 L502.86 398.57 L503.16 397.61 L503.47 396.66 L503.78 395.71 L504.1 394.76 L504.42 393.82 L504.75 392.88 L505.09 391.95 L505.43 391.02 L505.78 390.1 L506.15 389.18 L506.51 388.27 L506.89 387.37 L507.28 386.47 L507.68 385.58 L508.1 384.69 L508.52 383.81 L508.96 382.94 L509.41 382.07 L509.87 381.21 L510.35 380.36 L510.84 379.52 L511.35 378.68 L511.87 377.85 L512.41 377.03 L512.97 376.22 L513.54 375.42 L514.13 374.63 L514.74 373.84 L515.36 373.07 L516 372.3 L516.65 371.54 L517.32 370.79 L518 370.06 L518.69 369.33 L519.39 368.61 L520.11 367.9 L520.84 367.2 L521.58 366.51 L522.33 365.82 L523.09 365.15 L523.86 364.49 L524.64 363.84 L525.43 363.2 L526.23 362.57 L527.03 361.95 L527.85 361.35 L528.67 360.75 L529.5 360.16 L530.33 359.58 L531.17 359.02 L532.01 358.47 L532.86 357.92 L533.72 357.39 L534.57 356.87 L535.43 356.36 L536.3 355.86 L537.16 355.38 L538.03 354.9 L538.91 354.44 L539.78 353.98 L540.66 353.53 L541.55 353.09 L542.43 352.66 L543.32 352.24 L544.21 351.82 L545.1 351.41 L546 351.01 L546.9 350.61 L547.8 350.22 L548.7 349.84 L549.6 349.45 L550.51 349.08 L551.42 348.7 L552.34 348.33 L553.25 347.97 L554.17 347.6 L555.09 347.24 L556.01 346.88 L556.93 346.52 L557.85 346.16 L558.78 345.8 L559.71 345.44 L560.64 345.08 L561.57 344.72 L562.5 344.36 L563.44 343.99 L564.38 343.63 L565.32 343.26 L566.25 342.89 L567.2 342.52 L568.14 342.15 L569.08 341.78 L570.03 341.41 L570.97 341.04 L571.92 340.67 L572.87 340.3 L573.82 339.93 L574.77 339.56 L575.72 339.19 L576.67 338.82 L577.63 338.45 L578.58 338.09 L579.53 337.72 L580.49 337.36 L581.44 337 L582.4 336.65 L583.36 336.29 L584.31 335.94 L585.27 335.59 L586.23 335.25 L587.19 334.91 L588.15 334.57 L589.11 334.23 L590.06 333.9 L591.02 333.58 L591.98 333.25 L592.94 332.93 L593.9 332.62 L594.86 332.3 L595.82 332 L596.78 331.69 L597.74 331.39 L598.7 331.09 L599.67 330.79 L600.63 330.5 L601.59 330.21 L602.55 329.93 L603.51 329.65 L604.48 329.37 L605.44 329.09 L606.4 328.82 L607.36 328.55 L608.33 328.28 L609.29 328.01 L610.26 327.75 L611.22 327.49 L612.19 327.24 L613.15 326.98 L614.12 326.73 L615.08 326.49 L616.05 326.24 L617.02 326 L617.98 325.76 L618.95 325.52 L619.92 325.28 L620.88 325.05 L621.85 324.82 L622.82 324.59 L623.79 324.37 L624.76 324.14 L625.73 323.92 L626.7 323.7 L627.67 323.48 L628.64 323.27 L629.61 323.06 L630.58 322.84 L631.55 322.63 L632.53 322.43 L633.5 322.22 L634.47 322.02 L635.45 321.82 L636.42 321.61 L637.39 321.42 L638.37 321.22 L639.34 321.02 L640.32 320.83 L641.3 320.64 L642.27 320.45 L643.25 320.26 L644.23 320.07 L645.2 319.88 L646.18 319.7 L647.16 319.51 L648.14 319.33 L649.12 319.15 L650.1 318.97 L651.08 318.79 L652.06 318.61 L653.04 318.43 L654.03 318.25 L655.01 318.08 L655.99 317.9 L656.98 317.73 L657.96 317.55 L658.95 317.38 L659.93 317.21 L660.92 317.04 L661.9 316.87 L662.89 316.7 L663.88 316.53 L664.86 316.36 L665.85 316.19 L666.84 316.02 L667.83 315.86 L668.82 315.69 L669.81 315.52 L670.8 315.36 L671.79 315.19 L672.79 315.02 L673.78 314.86 L674.77 314.69 L675.77 314.52 L676.76 314.36 L677.76 314.19 L678.75 314.02 L679.75 313.86 L680.75 313.69 L681.74 313.52 L682.74 313.36 L683.74 313.19 L684.74 313.02 L685.74 312.85 L686.74 312.68 L687.74 312.51 L688.75 312.35 L689.75 312.17 L690.75 312 L691.76 311.83 L692.76 311.66 L693.77 311.49 L694.77 311.31" fill="none" stroke="#000000" stroke-width="2.3" stroke-linejoin="round" stroke-linecap="round"/>
<path d="M481.89 479.37 L482.09 478.41 L482.29 477.44 L482.49 476.48 L482.69 475.51 L482.9 474.54 L483.1 473.57 L483.31 472.6 L483.51 471.62 L483.72 470.65 L483.92 469.67 L484.13 468.7 L484.33 467.72 L484.54 466.74 L484.75 465.76 L484.95 464.78 L485.16 463.8 L485.37 462.82 L485.57 461.84 L485.78 460.85 L485.98 459.87 L486.19 458.88 L486.39 457.9 L486.59 456.91 L486.79 455.93 L486.99 454.94 L487.19 453.95 L487.39 452.96 L487.59 451.97 L487.79 450.98 L487.98 450 L488.17 449.01 L488.36 448.02 L488.55 447.02 L488.74 446.03 L488.93 445.04 L489.11 444.05 L489.29 443.06 L489.47 442.07 L489.65 441.08 L489.83 440.09 L490 439.1 L490.17 438.11 L490.34 437.12 L490.5 436.12 L490.67 435.13 L490.83 434.14 L490.98 433.15 L491.14 432.16 L491.29 431.17 L491.45 430.18 L491.6 429.2 L491.76 428.21 L491.92 427.22 L492.08 426.23 L492.24 425.25 L492.4 424.26 L492.57 423.27 L492.74 422.29 L492.92 421.3 L493.11 420.32 L493.3 419.34 L493.49 418.36 L493.7 417.37 L493.91 416.39 L494.13 415.42 L494.36 414.44 L494.6 413.46 L494.85 412.48 L495.11 411.51 L495.38 410.53 L495.66 409.56 L495.96 408.59 L496.27 407.62 L496.59 406.65 L496.93 405.68 L497.28 404.72 L497.65 403.77 L498.03 402.82 L498.42 401.88 L498.83 400.94 L499.26 400.01 L499.7 399.1 L500.16 398.19 L500.63 397.3 L501.12 396.42 L501.63 395.55 L502.16 394.7 L502.7 393.86 L503.26 393.04 L503.84 392.23 L504.44 391.44 L505.05 390.68 L505.69 389.93 L506.34 389.2 L507.01 388.5 L507.7 387.81 L508.41 387.14 L509.13 386.49 L509.87 385.85 L510.62 385.24 L511.39 384.64 L512.17 384.05 L512.97 383.48 L513.78 382.93 L514.6 382.38 L515.42 381.85 L516.26 381.33 L517.11 380.83 L517.97 380.33 L518.83 379.85 L519.71 379.37 L520.59 378.9 L521.47 378.44 L522.36 377.99 L523.26 377.54 L524.16 377.1 L525.06 376.66 L525.96 376.23 L526.87 375.81 L527.77 375.38 L528.68 374.96 L529.59 374.55 L530.5 374.14 L531.42 373.73 L532.33 373.32 L533.24 372.92 L534.16 372.52 L535.08 372.12 L535.99 371.72 L536.91 371.33 L537.83 370.94 L538.76 370.56 L539.68 370.17 L540.6 369.79 L541.53 369.41 L542.45 369.03 L543.38 368.66 L544.3 368.29 L545.23 367.92 L546.16 367.55 L547.09 367.18 L548.02 366.82 L548.95 366.46 L549.89 366.09 L550.82 365.74 L551.76 365.38 L552.69 365.02 L553.63 364.67 L554.56 364.31 L555.5 363.96 L556.44 363.61 L557.38 363.26 L558.31 362.91 L559.25 362.57 L560.19 362.22 L561.14 361.87 L562.08 361.53 L563.02 361.18 L563.96 360.84 L564.9 360.5 L565.85 360.15 L566.79 359.81 L567.74 359.47 L568.68 359.13 L569.63 358.79 L570.57 358.45 L571.52 358.1 L572.46 357.76 L573.41 357.42 L574.36 357.08 L575.3 356.74 L576.25 356.39 L577.2 356.05 L578.15 355.71 L579.09 355.36 L580.04 355.02 L580.99 354.67 L581.94 354.33 L582.89 353.98 L583.84 353.63 L584.78 353.28 L585.73 352.93 L586.68 352.58 L587.63 352.23 L588.58 351.88 L589.53 351.52 L590.48 351.17 L591.43 350.81 L592.37 350.45 L593.32 350.09 L594.27 349.72 L595.22 349.36 L596.17 348.99 L597.11 348.62 L598.06 348.25 L599.01 347.88 L599.95 347.5 L600.9 347.12 L601.85 346.75 L602.79 346.37 L603.74 345.99 L604.68 345.61 L605.63 345.22 L606.58 344.84 L607.52 344.47 L608.47 344.09 L609.41 343.71 L610.36 343.34 L611.3 342.97 L612.25 342.6 L613.19 342.23 L614.14 341.87 L615.08 341.51 L616.03 341.16 L616.97 340.81 L617.92 340.47 L618.86 340.13 L619.81 339.8 L620.76 339.47 L621.7 339.16 L622.65 338.84 L623.6 338.54 L624.54 338.24 L625.49 337.95 L626.44 337.67 L627.39 337.38 L628.33 337.11 L629.28 336.84 L630.23 336.57 L631.18 336.3 L632.13 336.04 L633.08 335.78 L634.03 335.53 L634.98 335.27 L635.94 335.02 L636.89 334.76 L637.84 334.51 L638.79 334.26 L639.75 334.01 L640.7 333.77 L641.66 333.52 L642.62 333.27 L643.57 333.03 L644.53 332.79 L645.49 332.55 L646.45 332.31 L647.41 332.07 L648.37 331.83 L649.33 331.59 L650.29 331.36 L651.25 331.13 L652.22 330.89 L653.18 330.66 L654.15 330.43 L655.12 330.2 L656.08 329.98 L657.05 329.75 L658.02 329.53 L658.99 329.31 L659.96 329.08 L660.94 328.86 L661.91 328.64 L662.89 328.43 L663.86 328.21 L664.84 328 L665.82 327.78 L666.8 327.57 L667.78 327.36 L668.76 327.15 L669.75 326.94 L670.73 326.74 L671.72 326.53 L672.7 326.33 L673.69 326.13 L674.68 325.93 L675.67 325.73 L676.67 325.53 L677.66 325.33 L678.66 325.14 L679.65 324.95 L680.65 324.75 L681.65 324.56 L682.65 324.37 L683.66 324.19 L684.66 324 L685.67 323.82 L686.68 323.63 L687.69 323.45 L688.7 323.27 L689.71 323.09 L690.73 322.92 L691.74 322.74 L692.76 322.57 L693.78 322.39 L694.8 322.22 L695.83 322.05" fill="none" stroke="#fa0a12" stroke-width="2.3" stroke-linejoin="round" stroke-linecap="round"/>
<path d="M474.76 465.65 L474.93 464.61 L475.1 463.57 L475.28 462.54 L475.44 461.51 L475.61 460.49 L475.77 459.47 L475.93 458.46 L476.09 457.45 L476.25 456.45 L476.41 455.45 L476.57 454.46 L476.72 453.47 L476.88 452.48 L477.04 451.49 L477.19 450.51 L477.35 449.53 L477.51 448.55 L477.66 447.58 L477.82 446.6 L477.98 445.63 L478.14 444.66 L478.31 443.69 L478.47 442.72 L478.64 441.76 L478.81 440.79 L478.98 439.82 L479.15 438.86 L479.33 437.89 L479.51 436.93 L479.7 435.96 L479.88 434.99 L480.08 434.02 L480.27 433.05 L480.47 432.08 L480.68 431.1 L480.89 430.13 L481.1 429.15 L481.33 428.17 L481.55 427.19 L481.78 426.2 L482.02 425.21 L482.26 424.22 L482.51 423.23 L482.77 422.24 L483.04 421.24 L483.31 420.25 L483.59 419.25 L483.87 418.26 L484.17 417.27 L484.47 416.28 L484.78 415.29 L485.1 414.3 L485.42 413.31 L485.76 412.33 L486.1 411.35 L486.46 410.38 L486.82 409.41 L487.2 408.45 L487.58 407.49 L487.98 406.54 L488.38 405.59 L488.8 404.65 L489.22 403.72 L489.66 402.8 L490.11 401.88 L490.57 400.97 L491.05 400.08 L491.53 399.19 L492.03 398.31 L492.54 397.44 L493.06 396.58 L493.6 395.74 L494.15 394.9 L494.71 394.08 L495.28 393.27 L495.87 392.48 L496.48 391.69 L497.1 390.92 L497.73 390.16 L498.37 389.42 L499.02 388.69 L499.69 387.97 L500.37 387.26 L501.06 386.56 L501.77 385.88 L502.48 385.21 L503.21 384.55 L503.94 383.9 L504.69 383.26 L505.45 382.64 L506.21 382.02 L506.99 381.42 L507.78 380.83 L508.57 380.25 L509.37 379.68 L510.19 379.12 L511.01 378.57 L511.84 378.03 L512.67 377.5 L513.52 376.99 L514.37 376.48 L515.23 375.98 L516.1 375.5 L516.97 375.02 L517.85 374.55 L518.73 374.09 L519.62 373.65 L520.52 373.21 L521.42 372.78 L522.33 372.36 L523.24 371.94 L524.15 371.54 L525.07 371.15 L526 370.76 L526.92 370.38 L527.86 370.01 L528.79 369.64 L529.73 369.28 L530.67 368.92 L531.61 368.57 L532.55 368.22 L533.5 367.87 L534.45 367.53 L535.4 367.19 L536.35 366.85 L537.3 366.52 L538.25 366.18 L539.2 365.85 L540.15 365.51 L541.1 365.18 L542.06 364.84 L543.01 364.51 L543.96 364.17 L544.91 363.84 L545.86 363.51 L546.81 363.18 L547.76 362.86 L548.71 362.54 L549.66 362.22 L550.62 361.91 L551.57 361.6 L552.52 361.3 L553.47 361 L554.42 360.71 L555.37 360.42 L556.32 360.14 L557.27 359.85 L558.22 359.56 L559.17 359.26 L560.12 358.97 L561.07 358.66 L562.02 358.35 L562.97 358.02 L563.92 357.7 L564.87 357.36 L565.82 357.02 L566.77 356.67 L567.72 356.31 L568.67 355.95 L569.63 355.59 L570.58 355.22 L571.53 354.84 L572.48 354.47 L573.43 354.09 L574.38 353.71 L575.33 353.33 L576.28 352.94 L577.23 352.56 L578.18 352.17 L579.14 351.79 L580.09 351.41 L581.04 351.03 L581.99 350.65 L582.94 350.27 L583.89 349.89 L584.85 349.52 L585.8 349.16 L586.75 348.79 L587.7 348.44 L588.66 348.08 L589.61 347.74 L590.56 347.39 L591.52 347.06 L592.47 346.72 L593.42 346.4 L594.38 346.07 L595.33 345.76 L596.29 345.44 L597.24 345.14 L598.2 344.83 L599.15 344.53 L600.11 344.23 L601.06 343.94 L602.02 343.65 L602.98 343.37 L603.93 343.09 L604.89 342.81 L605.85 342.54 L606.8 342.27 L607.76 342 L608.72 341.73 L609.68 341.47 L610.63 341.21 L611.59 340.96 L612.55 340.7 L613.51 340.45 L614.47 340.2 L615.43 339.96 L616.39 339.71 L617.35 339.47 L618.31 339.23 L619.28 338.99 L620.24 338.76 L621.2 338.52 L622.16 338.29 L623.12 338.05 L624.09 337.82 L625.05 337.59 L626.02 337.36 L626.98 337.13 L627.95 336.9 L628.91 336.68 L629.88 336.45 L630.84 336.22 L631.81 336 L632.78 335.77 L633.74 335.54 L634.71 335.32 L635.68 335.09 L636.65 334.87 L637.62 334.64 L638.59 334.41 L639.56 334.18 L640.53 333.96 L641.5 333.73 L642.47 333.5 L643.45 333.28 L644.42 333.05 L645.39 332.82 L646.37 332.59 L647.34 332.36 L648.32 332.14 L649.29 331.91 L650.27 331.68 L651.25 331.45 L652.22 331.23 L653.2 331 L654.18 330.77 L655.16 330.54 L656.14 330.32 L657.12 330.09 L658.1 329.86 L659.08 329.63 L660.06 329.41 L661.05 329.18 L662.03 328.95 L663.01 328.73 L664 328.5 L664.98 328.28 L665.97 328.05 L666.96 327.83 L667.94 327.6 L668.93 327.38 L669.92 327.15 L670.91 326.93 L671.9 326.7 L672.89 326.48 L673.88 326.26 L674.87 326.03 L675.87 325.81 L676.86 325.59 L677.85 325.37 L678.85 325.15 L679.84 324.93 L680.84 324.71 L681.84 324.49 L682.84 324.27 L683.83 324.05 L684.83 323.83 L685.83 323.61 L686.84 323.4 L687.84 323.18 L688.84 322.96 L689.84 322.75 L690.85 322.53 L691.85 322.32 L692.86 322.1 L693.86 321.89 L694.87 321.68 L695.88 321.47" fill="none" stroke="#0c0ce0" stroke-width="2.3" stroke-linejoin="round" stroke-linecap="round"/>
<path d="M474.86 477.27 L475.04 476.34 L475.22 475.4 L475.4 474.46 L475.58 473.52 L475.76 472.57 L475.95 471.62 L476.13 470.66 L476.32 469.71 L476.5 468.75 L476.69 467.78 L476.88 466.82 L477.06 465.85 L477.25 464.88 L477.44 463.9 L477.63 462.92 L477.82 461.94 L478.01 460.96 L478.2 459.98 L478.39 458.99 L478.58 458.01 L478.77 457.02 L478.96 456.02 L479.15 455.03 L479.34 454.04 L479.53 453.04 L479.72 452.04 L479.91 451.05 L480.1 450.05 L480.29 449.05 L480.48 448.04 L480.67 447.04 L480.85 446.04 L481.04 445.03 L481.23 444.03 L481.41 443.02 L481.6 442.02 L481.78 441.01 L481.96 440.01 L482.14 439 L482.32 438 L482.5 436.99 L482.68 435.99 L482.85 434.98 L483.03 433.98 L483.2 432.97 L483.38 431.97 L483.56 430.97 L483.73 429.97 L483.91 428.97 L484.09 427.97 L484.27 426.97 L484.45 425.97 L484.64 424.97 L484.83 423.98 L485.02 422.99 L485.22 422 L485.42 421.01 L485.63 420.02 L485.84 419.03 L486.06 418.05 L486.28 417.07 L486.51 416.09 L486.74 415.11 L486.99 414.14 L487.24 413.17 L487.49 412.2 L487.76 411.23 L488.03 410.27 L488.32 409.31 L488.61 408.35 L488.91 407.4 L489.22 406.45 L489.55 405.5 L489.88 404.56 L490.22 403.62 L490.58 402.68 L490.95 401.75 L491.33 400.83 L491.72 399.91 L492.13 399 L492.55 398.1 L492.98 397.2 L493.43 396.32 L493.89 395.44 L494.36 394.57 L494.85 393.71 L495.35 392.86 L495.87 392.03 L496.41 391.2 L496.96 390.39 L497.53 389.59 L498.12 388.8 L498.72 388.03 L499.34 387.27 L499.98 386.53 L500.63 385.8 L501.3 385.09 L502 384.39 L502.71 383.71 L503.44 383.05 L504.19 382.41 L504.95 381.78 L505.74 381.17 L506.53 380.57 L507.35 379.99 L508.17 379.42 L509.01 378.87 L509.87 378.34 L510.73 377.81 L511.61 377.31 L512.49 376.81 L513.39 376.33 L514.29 375.86 L515.2 375.4 L516.12 374.96 L517.04 374.52 L517.97 374.1 L518.9 373.69 L519.84 373.29 L520.78 372.9 L521.72 372.52 L522.66 372.15 L523.6 371.78 L524.54 371.43 L525.48 371.08 L526.43 370.75 L527.37 370.42 L528.31 370.09 L529.25 369.78 L530.19 369.47 L531.14 369.16 L532.08 368.86 L533.02 368.57 L533.97 368.27 L534.91 367.99 L535.85 367.7 L536.79 367.42 L537.74 367.14 L538.68 366.87 L539.62 366.59 L540.57 366.32 L541.51 366.04 L542.45 365.77 L543.4 365.5 L544.34 365.22 L545.29 364.95 L546.23 364.67 L547.17 364.39 L548.12 364.11 L549.06 363.83 L550.01 363.54 L550.95 363.25 L551.9 362.95 L552.84 362.65 L553.79 362.35 L554.73 362.03 L555.68 361.72 L556.62 361.39 L557.57 361.06 L558.52 360.73 L559.46 360.39 L560.41 360.04 L561.36 359.69 L562.3 359.34 L563.25 358.98 L564.2 358.61 L565.14 358.25 L566.09 357.88 L567.04 357.5 L567.99 357.13 L568.93 356.75 L569.88 356.37 L570.83 355.99 L571.78 355.6 L572.73 355.22 L573.68 354.83 L574.63 354.45 L575.58 354.06 L576.53 353.68 L577.47 353.29 L578.42 352.9 L579.38 352.52 L580.33 352.14 L581.28 351.76 L582.23 351.38 L583.18 351 L584.13 350.63 L585.08 350.26 L586.03 349.89 L586.98 349.52 L587.94 349.16 L588.89 348.81 L589.84 348.45 L590.8 348.1 L591.75 347.76 L592.7 347.42 L593.66 347.08 L594.61 346.74 L595.56 346.41 L596.52 346.09 L597.47 345.76 L598.43 345.44 L599.38 345.13 L600.34 344.82 L601.3 344.51 L602.25 344.2 L603.21 343.9 L604.17 343.6 L605.12 343.3 L606.08 343.01 L607.04 342.71 L608 342.43 L608.95 342.14 L609.91 341.86 L610.87 341.58 L611.83 341.3 L612.79 341.03 L613.75 340.76 L614.71 340.49 L615.67 340.22 L616.63 339.96 L617.59 339.7 L618.55 339.44 L619.52 339.18 L620.48 338.93 L621.44 338.67 L622.4 338.42 L623.37 338.18 L624.33 337.93 L625.29 337.68 L626.26 337.44 L627.22 337.2 L628.19 336.96 L629.15 336.73 L630.12 336.49 L631.08 336.26 L632.05 336.02 L633.02 335.79 L633.98 335.56 L634.95 335.34 L635.92 335.11 L636.89 334.89 L637.85 334.66 L638.82 334.44 L639.79 334.22 L640.76 334 L641.73 333.78 L642.7 333.56 L643.67 333.34 L644.65 333.12 L645.62 332.91 L646.59 332.69 L647.56 332.48 L648.53 332.27 L649.51 332.05 L650.48 331.84 L651.46 331.63 L652.43 331.42 L653.4 331.2 L654.38 330.99 L655.36 330.78 L656.33 330.57 L657.31 330.36 L658.29 330.15 L659.26 329.94 L660.24 329.73 L661.22 329.52 L662.2 329.31 L663.18 329.1 L664.16 328.89 L665.14 328.68 L666.12 328.47 L667.1 328.25 L668.08 328.04 L669.06 327.83 L670.05 327.62 L671.03 327.4 L672.01 327.19 L673 326.97 L673.98 326.76 L674.97 326.54 L675.95 326.32 L676.94 326.1 L677.92 325.88 L678.91 325.66 L679.9 325.44 L680.88 325.22 L681.87 324.99 L682.86 324.77 L683.85 324.54 L684.84 324.31 L685.83 324.08 L686.82 323.85 L687.81 323.62 L688.81 323.38 L689.8 323.15 L690.79 322.91 L691.78 322.67 L692.78 322.43 L693.77 322.19 L694.77 321.94 L695.76 321.7" fill="none" stroke="#22ee22" stroke-width="2.3" stroke-linejoin="round" stroke-linecap="round"/>
<rect x="559.1" y="431.7" width="144.2" height="76.2" fill="#fff" stroke="#b8b8b8" stroke-width="1"/>
<line x1="560.2" y1="443" x2="589.5" y2="443" stroke="#000000" stroke-width="2.4"/>
<text x="593.5" y="448" font-family='"Liberation Sans", sans-serif' font-size="14.6" font-weight="bold" text-anchor="start" fill="#111" letter-spacing="0.3">before</text>
<line x1="560.2" y1="462.2" x2="589.5" y2="462.2" stroke="#fa0a12" stroke-width="2.4"/>
<text x="593.5" y="467.2" font-family='"Liberation Sans", sans-serif' font-size="14.6" font-weight="bold" text-anchor="start" fill="#111" letter-spacing="0.3">water</text>
<line x1="560.2" y1="481" x2="589.5" y2="481" stroke="#0c0ce0" stroke-width="2.4"/>
<text x="593.5" y="486" font-family='"Liberation Sans", sans-serif' font-size="14.6" font-weight="bold" text-anchor="start" fill="#111" letter-spacing="0.3">pump1h</text>
<line x1="560.2" y1="499.2" x2="589.5" y2="499.2" stroke="#22ee22" stroke-width="2.4"/>
<text x="593.5" y="504.2" font-family='"Liberation Sans", sans-serif' font-size="14.6" font-weight="bold" text-anchor="start" fill="#111" letter-spacing="0.3">after annealing</text>
<text x="416.3" y="317.2" font-family='"Liberation Serif", serif' font-size="22" font-weight="normal" text-anchor="start" fill="#000">(d)</text>
<g transform="translate(382.6 435.1) rotate(-90)">
<text x="0" y="0" font-family='"Liberation Sans", sans-serif' font-size="21.5" fill="#000">I<tspan font-size="12.5" dy="7">DS</tspan><tspan dy="-7">(A)</tspan></text>
</g>
<text x="559.1" y="567.6" font-family='"Liberation Sans", sans-serif' font-size="21" fill="#000">V<tspan font-size="11.5" dy="7.2">G</tspan><tspan dy="-7.2">(V)</tspan></text>
</svg>
</body></html>
